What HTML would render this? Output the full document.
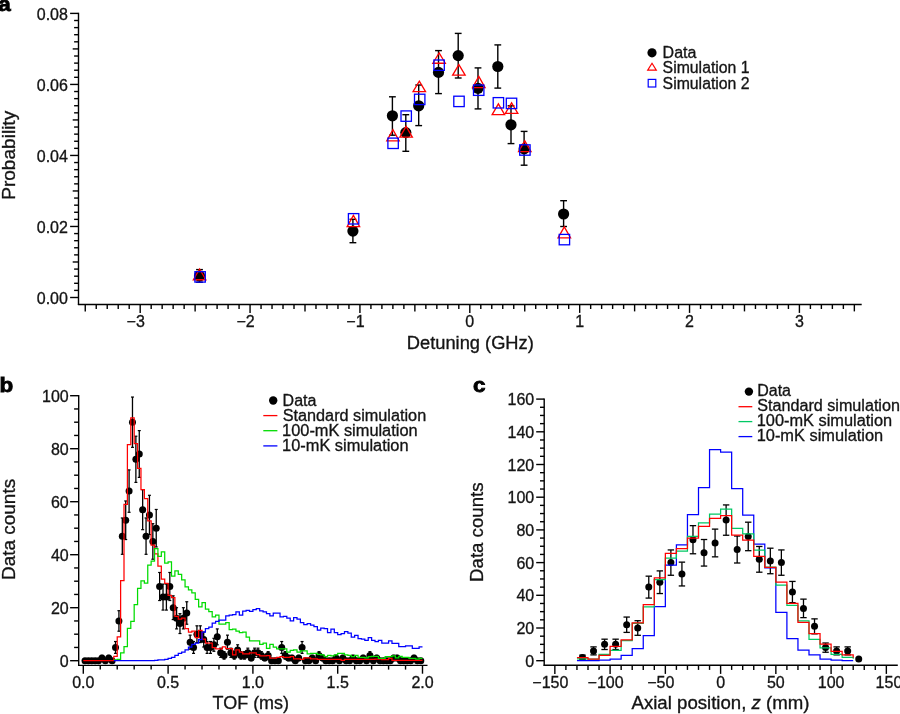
<!DOCTYPE html>
<html><head><meta charset="utf-8"><style>html,body{margin:0;padding:0;background:#fff}svg{display:block;will-change:transform;opacity:0.999}text{font-family:"Liberation Sans",sans-serif;stroke:#141414;stroke-width:0.32px}</style></head><body>
<svg width="900" height="714" viewBox="0 0 900 714">
<rect width="900" height="714" fill="#fff"/>
<g id="pa">
<line x1="78.50" y1="12.80" x2="78.50" y2="305.10" stroke="#000" stroke-width="1.4" />
<line x1="77.90" y1="304.50" x2="861.70" y2="304.50" stroke="#000" stroke-width="1.4" />
<line x1="70.10" y1="297.50" x2="78.50" y2="297.50" stroke="#000" stroke-width="1.4" />
<text x="67.90" y="303.60" font-size="16" text-anchor="end" font-weight="normal" fill="#141414" >0.00</text>
<line x1="74.10" y1="290.40" x2="78.50" y2="290.40" stroke="#000" stroke-width="1.4" />
<line x1="74.10" y1="283.30" x2="78.50" y2="283.30" stroke="#000" stroke-width="1.4" />
<line x1="74.10" y1="276.19" x2="78.50" y2="276.19" stroke="#000" stroke-width="1.4" />
<line x1="74.10" y1="269.09" x2="78.50" y2="269.09" stroke="#000" stroke-width="1.4" />
<line x1="72.70" y1="261.99" x2="78.50" y2="261.99" stroke="#000" stroke-width="1.4" />
<line x1="74.10" y1="254.88" x2="78.50" y2="254.88" stroke="#000" stroke-width="1.4" />
<line x1="74.10" y1="247.78" x2="78.50" y2="247.78" stroke="#000" stroke-width="1.4" />
<line x1="74.10" y1="240.68" x2="78.50" y2="240.68" stroke="#000" stroke-width="1.4" />
<line x1="74.10" y1="233.58" x2="78.50" y2="233.58" stroke="#000" stroke-width="1.4" />
<line x1="70.10" y1="226.47" x2="78.50" y2="226.47" stroke="#000" stroke-width="1.4" />
<text x="67.90" y="232.57" font-size="16" text-anchor="end" font-weight="normal" fill="#141414" >0.02</text>
<line x1="74.10" y1="219.37" x2="78.50" y2="219.37" stroke="#000" stroke-width="1.4" />
<line x1="74.10" y1="212.27" x2="78.50" y2="212.27" stroke="#000" stroke-width="1.4" />
<line x1="74.10" y1="205.17" x2="78.50" y2="205.17" stroke="#000" stroke-width="1.4" />
<line x1="74.10" y1="198.06" x2="78.50" y2="198.06" stroke="#000" stroke-width="1.4" />
<line x1="72.70" y1="190.96" x2="78.50" y2="190.96" stroke="#000" stroke-width="1.4" />
<line x1="74.10" y1="183.86" x2="78.50" y2="183.86" stroke="#000" stroke-width="1.4" />
<line x1="74.10" y1="176.76" x2="78.50" y2="176.76" stroke="#000" stroke-width="1.4" />
<line x1="74.10" y1="169.65" x2="78.50" y2="169.65" stroke="#000" stroke-width="1.4" />
<line x1="74.10" y1="162.55" x2="78.50" y2="162.55" stroke="#000" stroke-width="1.4" />
<line x1="70.10" y1="155.45" x2="78.50" y2="155.45" stroke="#000" stroke-width="1.4" />
<text x="67.90" y="161.55" font-size="16" text-anchor="end" font-weight="normal" fill="#141414" >0.04</text>
<line x1="74.10" y1="148.35" x2="78.50" y2="148.35" stroke="#000" stroke-width="1.4" />
<line x1="74.10" y1="141.25" x2="78.50" y2="141.25" stroke="#000" stroke-width="1.4" />
<line x1="74.10" y1="134.14" x2="78.50" y2="134.14" stroke="#000" stroke-width="1.4" />
<line x1="74.10" y1="127.04" x2="78.50" y2="127.04" stroke="#000" stroke-width="1.4" />
<line x1="72.70" y1="119.94" x2="78.50" y2="119.94" stroke="#000" stroke-width="1.4" />
<line x1="74.10" y1="112.83" x2="78.50" y2="112.83" stroke="#000" stroke-width="1.4" />
<line x1="74.10" y1="105.73" x2="78.50" y2="105.73" stroke="#000" stroke-width="1.4" />
<line x1="74.10" y1="98.63" x2="78.50" y2="98.63" stroke="#000" stroke-width="1.4" />
<line x1="74.10" y1="91.53" x2="78.50" y2="91.53" stroke="#000" stroke-width="1.4" />
<line x1="70.10" y1="84.43" x2="78.50" y2="84.43" stroke="#000" stroke-width="1.4" />
<text x="67.90" y="90.53" font-size="16" text-anchor="end" font-weight="normal" fill="#141414" >0.06</text>
<line x1="74.10" y1="77.32" x2="78.50" y2="77.32" stroke="#000" stroke-width="1.4" />
<line x1="74.10" y1="70.22" x2="78.50" y2="70.22" stroke="#000" stroke-width="1.4" />
<line x1="74.10" y1="63.12" x2="78.50" y2="63.12" stroke="#000" stroke-width="1.4" />
<line x1="74.10" y1="56.01" x2="78.50" y2="56.01" stroke="#000" stroke-width="1.4" />
<line x1="72.70" y1="48.91" x2="78.50" y2="48.91" stroke="#000" stroke-width="1.4" />
<line x1="74.10" y1="41.81" x2="78.50" y2="41.81" stroke="#000" stroke-width="1.4" />
<line x1="74.10" y1="34.71" x2="78.50" y2="34.71" stroke="#000" stroke-width="1.4" />
<line x1="74.10" y1="27.61" x2="78.50" y2="27.61" stroke="#000" stroke-width="1.4" />
<line x1="74.10" y1="20.50" x2="78.50" y2="20.50" stroke="#000" stroke-width="1.4" />
<line x1="70.10" y1="13.40" x2="78.50" y2="13.40" stroke="#000" stroke-width="1.4" />
<text x="67.90" y="19.50" font-size="16" text-anchor="end" font-weight="normal" fill="#141414" >0.08</text>
<line x1="85.25" y1="304.50" x2="85.25" y2="311.40" stroke="#000" stroke-width="1.4" />
<line x1="96.24" y1="304.50" x2="96.24" y2="309.00" stroke="#000" stroke-width="1.4" />
<line x1="107.23" y1="304.50" x2="107.23" y2="309.00" stroke="#000" stroke-width="1.4" />
<line x1="118.22" y1="304.50" x2="118.22" y2="309.00" stroke="#000" stroke-width="1.4" />
<line x1="129.20" y1="304.50" x2="129.20" y2="309.00" stroke="#000" stroke-width="1.4" />
<line x1="140.19" y1="304.50" x2="140.19" y2="312.90" stroke="#000" stroke-width="1.4" />
<text x="135.69" y="326.80" font-size="16" text-anchor="middle" font-weight="normal" fill="#141414" >−3</text>
<line x1="151.18" y1="304.50" x2="151.18" y2="309.00" stroke="#000" stroke-width="1.4" />
<line x1="162.16" y1="304.50" x2="162.16" y2="309.00" stroke="#000" stroke-width="1.4" />
<line x1="173.15" y1="304.50" x2="173.15" y2="309.00" stroke="#000" stroke-width="1.4" />
<line x1="184.14" y1="304.50" x2="184.14" y2="309.00" stroke="#000" stroke-width="1.4" />
<line x1="195.12" y1="304.50" x2="195.12" y2="311.40" stroke="#000" stroke-width="1.4" />
<line x1="206.11" y1="304.50" x2="206.11" y2="309.00" stroke="#000" stroke-width="1.4" />
<line x1="217.10" y1="304.50" x2="217.10" y2="309.00" stroke="#000" stroke-width="1.4" />
<line x1="228.09" y1="304.50" x2="228.09" y2="309.00" stroke="#000" stroke-width="1.4" />
<line x1="239.07" y1="304.50" x2="239.07" y2="309.00" stroke="#000" stroke-width="1.4" />
<line x1="250.06" y1="304.50" x2="250.06" y2="312.90" stroke="#000" stroke-width="1.4" />
<text x="245.56" y="326.80" font-size="16" text-anchor="middle" font-weight="normal" fill="#141414" >−2</text>
<line x1="261.05" y1="304.50" x2="261.05" y2="309.00" stroke="#000" stroke-width="1.4" />
<line x1="272.03" y1="304.50" x2="272.03" y2="309.00" stroke="#000" stroke-width="1.4" />
<line x1="283.02" y1="304.50" x2="283.02" y2="309.00" stroke="#000" stroke-width="1.4" />
<line x1="294.01" y1="304.50" x2="294.01" y2="309.00" stroke="#000" stroke-width="1.4" />
<line x1="305.00" y1="304.50" x2="305.00" y2="311.40" stroke="#000" stroke-width="1.4" />
<line x1="315.98" y1="304.50" x2="315.98" y2="309.00" stroke="#000" stroke-width="1.4" />
<line x1="326.97" y1="304.50" x2="326.97" y2="309.00" stroke="#000" stroke-width="1.4" />
<line x1="337.96" y1="304.50" x2="337.96" y2="309.00" stroke="#000" stroke-width="1.4" />
<line x1="348.94" y1="304.50" x2="348.94" y2="309.00" stroke="#000" stroke-width="1.4" />
<line x1="359.93" y1="304.50" x2="359.93" y2="312.90" stroke="#000" stroke-width="1.4" />
<text x="355.43" y="326.80" font-size="16" text-anchor="middle" font-weight="normal" fill="#141414" >−1</text>
<line x1="370.92" y1="304.50" x2="370.92" y2="309.00" stroke="#000" stroke-width="1.4" />
<line x1="381.90" y1="304.50" x2="381.90" y2="309.00" stroke="#000" stroke-width="1.4" />
<line x1="392.89" y1="304.50" x2="392.89" y2="309.00" stroke="#000" stroke-width="1.4" />
<line x1="403.88" y1="304.50" x2="403.88" y2="309.00" stroke="#000" stroke-width="1.4" />
<line x1="414.87" y1="304.50" x2="414.87" y2="311.40" stroke="#000" stroke-width="1.4" />
<line x1="425.85" y1="304.50" x2="425.85" y2="309.00" stroke="#000" stroke-width="1.4" />
<line x1="436.84" y1="304.50" x2="436.84" y2="309.00" stroke="#000" stroke-width="1.4" />
<line x1="447.83" y1="304.50" x2="447.83" y2="309.00" stroke="#000" stroke-width="1.4" />
<line x1="458.81" y1="304.50" x2="458.81" y2="309.00" stroke="#000" stroke-width="1.4" />
<line x1="469.80" y1="304.50" x2="469.80" y2="312.90" stroke="#000" stroke-width="1.4" />
<text x="469.80" y="326.80" font-size="16" text-anchor="middle" font-weight="normal" fill="#141414" >0</text>
<line x1="480.79" y1="304.50" x2="480.79" y2="309.00" stroke="#000" stroke-width="1.4" />
<line x1="491.77" y1="304.50" x2="491.77" y2="309.00" stroke="#000" stroke-width="1.4" />
<line x1="502.76" y1="304.50" x2="502.76" y2="309.00" stroke="#000" stroke-width="1.4" />
<line x1="513.75" y1="304.50" x2="513.75" y2="309.00" stroke="#000" stroke-width="1.4" />
<line x1="524.74" y1="304.50" x2="524.74" y2="311.40" stroke="#000" stroke-width="1.4" />
<line x1="535.72" y1="304.50" x2="535.72" y2="309.00" stroke="#000" stroke-width="1.4" />
<line x1="546.71" y1="304.50" x2="546.71" y2="309.00" stroke="#000" stroke-width="1.4" />
<line x1="557.70" y1="304.50" x2="557.70" y2="309.00" stroke="#000" stroke-width="1.4" />
<line x1="568.68" y1="304.50" x2="568.68" y2="309.00" stroke="#000" stroke-width="1.4" />
<line x1="579.67" y1="304.50" x2="579.67" y2="312.90" stroke="#000" stroke-width="1.4" />
<text x="579.67" y="326.80" font-size="16" text-anchor="middle" font-weight="normal" fill="#141414" >1</text>
<line x1="590.66" y1="304.50" x2="590.66" y2="309.00" stroke="#000" stroke-width="1.4" />
<line x1="601.64" y1="304.50" x2="601.64" y2="309.00" stroke="#000" stroke-width="1.4" />
<line x1="612.63" y1="304.50" x2="612.63" y2="309.00" stroke="#000" stroke-width="1.4" />
<line x1="623.62" y1="304.50" x2="623.62" y2="309.00" stroke="#000" stroke-width="1.4" />
<line x1="634.61" y1="304.50" x2="634.61" y2="311.40" stroke="#000" stroke-width="1.4" />
<line x1="645.59" y1="304.50" x2="645.59" y2="309.00" stroke="#000" stroke-width="1.4" />
<line x1="656.58" y1="304.50" x2="656.58" y2="309.00" stroke="#000" stroke-width="1.4" />
<line x1="667.57" y1="304.50" x2="667.57" y2="309.00" stroke="#000" stroke-width="1.4" />
<line x1="678.55" y1="304.50" x2="678.55" y2="309.00" stroke="#000" stroke-width="1.4" />
<line x1="689.54" y1="304.50" x2="689.54" y2="312.90" stroke="#000" stroke-width="1.4" />
<text x="689.54" y="326.80" font-size="16" text-anchor="middle" font-weight="normal" fill="#141414" >2</text>
<line x1="700.53" y1="304.50" x2="700.53" y2="309.00" stroke="#000" stroke-width="1.4" />
<line x1="711.51" y1="304.50" x2="711.51" y2="309.00" stroke="#000" stroke-width="1.4" />
<line x1="722.50" y1="304.50" x2="722.50" y2="309.00" stroke="#000" stroke-width="1.4" />
<line x1="733.49" y1="304.50" x2="733.49" y2="309.00" stroke="#000" stroke-width="1.4" />
<line x1="744.48" y1="304.50" x2="744.48" y2="311.40" stroke="#000" stroke-width="1.4" />
<line x1="755.46" y1="304.50" x2="755.46" y2="309.00" stroke="#000" stroke-width="1.4" />
<line x1="766.45" y1="304.50" x2="766.45" y2="309.00" stroke="#000" stroke-width="1.4" />
<line x1="777.44" y1="304.50" x2="777.44" y2="309.00" stroke="#000" stroke-width="1.4" />
<line x1="788.42" y1="304.50" x2="788.42" y2="309.00" stroke="#000" stroke-width="1.4" />
<line x1="799.41" y1="304.50" x2="799.41" y2="312.90" stroke="#000" stroke-width="1.4" />
<text x="799.41" y="326.80" font-size="16" text-anchor="middle" font-weight="normal" fill="#141414" >3</text>
<line x1="810.40" y1="304.50" x2="810.40" y2="309.00" stroke="#000" stroke-width="1.4" />
<line x1="821.38" y1="304.50" x2="821.38" y2="309.00" stroke="#000" stroke-width="1.4" />
<line x1="832.37" y1="304.50" x2="832.37" y2="309.00" stroke="#000" stroke-width="1.4" />
<line x1="843.36" y1="304.50" x2="843.36" y2="309.00" stroke="#000" stroke-width="1.4" />
<line x1="854.35" y1="304.50" x2="854.35" y2="311.40" stroke="#000" stroke-width="1.4" />
<text x="470.30" y="348.60" font-size="17.5" text-anchor="middle" font-weight="normal" fill="#141414"  textLength="127" lengthAdjust="spacingAndGlyphs">Detuning (GHz)</text>
<text transform="translate(14.9,155.3) rotate(-90)" font-size="17.5" text-anchor="middle" fill="#141414" textLength="89" lengthAdjust="spacingAndGlyphs">Probability</text>
<text transform="translate(-1.8,10.9) scale(1.12,1)" font-size="20" font-weight="bold" fill="#000" style="stroke:#000;stroke-width:0.85px">a</text>
<line x1="199.50" y1="269.60" x2="199.50" y2="282.20" stroke="#000" stroke-width="1.4" />
<line x1="196.10" y1="269.60" x2="202.90" y2="269.60" stroke="#000" stroke-width="1.4" />
<line x1="196.10" y1="282.20" x2="202.90" y2="282.20" stroke="#000" stroke-width="1.4" />
<circle cx="199.5" cy="276.0" r="5.6" fill="#000"/>
<line x1="352.90" y1="219.30" x2="352.90" y2="242.70" stroke="#000" stroke-width="1.4" />
<line x1="349.50" y1="219.30" x2="356.30" y2="219.30" stroke="#000" stroke-width="1.4" />
<line x1="349.50" y1="242.70" x2="356.30" y2="242.70" stroke="#000" stroke-width="1.4" />
<circle cx="352.9" cy="231.1" r="5.6" fill="#000"/>
<line x1="392.40" y1="96.80" x2="392.40" y2="135.20" stroke="#000" stroke-width="1.4" />
<line x1="389.00" y1="96.80" x2="395.80" y2="96.80" stroke="#000" stroke-width="1.4" />
<line x1="389.00" y1="135.20" x2="395.80" y2="135.20" stroke="#000" stroke-width="1.4" />
<circle cx="392.4" cy="115.8" r="5.6" fill="#000"/>
<line x1="405.80" y1="114.70" x2="405.80" y2="151.30" stroke="#000" stroke-width="1.4" />
<line x1="402.40" y1="114.70" x2="409.20" y2="114.70" stroke="#000" stroke-width="1.4" />
<line x1="402.40" y1="151.30" x2="409.20" y2="151.30" stroke="#000" stroke-width="1.4" />
<circle cx="405.8" cy="132.6" r="5.6" fill="#000"/>
<line x1="418.70" y1="85.00" x2="418.70" y2="125.60" stroke="#000" stroke-width="1.4" />
<line x1="415.30" y1="85.00" x2="422.10" y2="85.00" stroke="#000" stroke-width="1.4" />
<line x1="415.30" y1="125.60" x2="422.10" y2="125.60" stroke="#000" stroke-width="1.4" />
<circle cx="418.7" cy="105.8" r="5.6" fill="#000"/>
<line x1="438.50" y1="50.60" x2="438.50" y2="93.60" stroke="#000" stroke-width="1.4" />
<line x1="435.10" y1="50.60" x2="441.90" y2="50.60" stroke="#000" stroke-width="1.4" />
<line x1="435.10" y1="93.60" x2="441.90" y2="93.60" stroke="#000" stroke-width="1.4" />
<circle cx="438.5" cy="72.4" r="5.6" fill="#000"/>
<line x1="458.20" y1="33.40" x2="458.20" y2="78.00" stroke="#000" stroke-width="1.4" />
<line x1="454.80" y1="33.40" x2="461.60" y2="33.40" stroke="#000" stroke-width="1.4" />
<line x1="454.80" y1="78.00" x2="461.60" y2="78.00" stroke="#000" stroke-width="1.4" />
<circle cx="458.2" cy="55.6" r="5.6" fill="#000"/>
<line x1="478.00" y1="67.90" x2="478.00" y2="108.90" stroke="#000" stroke-width="1.4" />
<line x1="474.60" y1="67.90" x2="481.40" y2="67.90" stroke="#000" stroke-width="1.4" />
<line x1="474.60" y1="108.90" x2="481.40" y2="108.90" stroke="#000" stroke-width="1.4" />
<circle cx="478.0" cy="88.3" r="5.6" fill="#000"/>
<line x1="497.80" y1="44.90" x2="497.80" y2="88.10" stroke="#000" stroke-width="1.4" />
<line x1="494.40" y1="44.90" x2="501.20" y2="44.90" stroke="#000" stroke-width="1.4" />
<line x1="494.40" y1="88.10" x2="501.20" y2="88.10" stroke="#000" stroke-width="1.4" />
<circle cx="497.8" cy="66.5" r="5.6" fill="#000"/>
<line x1="511.00" y1="105.80" x2="511.00" y2="143.60" stroke="#000" stroke-width="1.4" />
<line x1="507.60" y1="105.80" x2="514.40" y2="105.80" stroke="#000" stroke-width="1.4" />
<line x1="507.60" y1="143.60" x2="514.40" y2="143.60" stroke="#000" stroke-width="1.4" />
<circle cx="511.0" cy="124.8" r="5.6" fill="#000"/>
<line x1="524.10" y1="131.40" x2="524.10" y2="165.20" stroke="#000" stroke-width="1.4" />
<line x1="520.70" y1="131.40" x2="527.50" y2="131.40" stroke="#000" stroke-width="1.4" />
<line x1="520.70" y1="165.20" x2="527.50" y2="165.20" stroke="#000" stroke-width="1.4" />
<circle cx="524.1" cy="148.9" r="5.6" fill="#000"/>
<line x1="563.60" y1="200.70" x2="563.60" y2="226.50" stroke="#000" stroke-width="1.4" />
<line x1="560.20" y1="200.70" x2="567.00" y2="200.70" stroke="#000" stroke-width="1.4" />
<line x1="560.20" y1="226.50" x2="567.00" y2="226.50" stroke="#000" stroke-width="1.4" />
<circle cx="563.6" cy="214.0" r="5.6" fill="#000"/>
<path d="M199.60 269.00 L205.85 279.75 L193.35 279.75 Z" fill="none" stroke="#f00" stroke-width="1.3" stroke-linejoin="miter"/>
<path d="M353.40 215.40 L359.65 226.65 L347.15 226.65 Z" fill="none" stroke="#f00" stroke-width="1.3" stroke-linejoin="miter"/>
<path d="M393.00 129.70 L399.25 140.95 L386.75 140.95 Z" fill="none" stroke="#f00" stroke-width="1.3" stroke-linejoin="miter"/>
<path d="M406.10 126.30 L412.35 137.05 L399.85 137.05 Z" fill="none" stroke="#f00" stroke-width="1.3" stroke-linejoin="miter"/>
<path d="M419.30 81.20 L425.55 91.65 L413.05 91.65 Z" fill="none" stroke="#f00" stroke-width="1.3" stroke-linejoin="miter"/>
<path d="M439.10 52.90 L445.35 63.25 L432.85 63.25 Z" fill="none" stroke="#f00" stroke-width="1.3" stroke-linejoin="miter"/>
<path d="M458.90 64.60 L465.15 75.05 L452.65 75.05 Z" fill="none" stroke="#f00" stroke-width="1.3" stroke-linejoin="miter"/>
<path d="M478.80 76.40 L485.05 87.65 L472.55 87.65 Z" fill="none" stroke="#f00" stroke-width="1.3" stroke-linejoin="miter"/>
<path d="M498.40 103.90 L504.65 114.65 L492.15 114.65 Z" fill="none" stroke="#f00" stroke-width="1.3" stroke-linejoin="miter"/>
<path d="M511.60 102.80 L517.85 113.45 L505.35 113.45 Z" fill="none" stroke="#f00" stroke-width="1.3" stroke-linejoin="miter"/>
<path d="M524.80 140.90 L531.05 151.55 L518.55 151.55 Z" fill="none" stroke="#f00" stroke-width="1.3" stroke-linejoin="miter"/>
<path d="M564.30 226.90 L570.55 237.95 L558.05 237.95 Z" fill="none" stroke="#f00" stroke-width="1.3" stroke-linejoin="miter"/>
<rect x="194.90" y="271.70" width="10.4" height="10.4" fill="none" stroke="#00f" stroke-width="1.3"/>
<rect x="348.40" y="213.60" width="10.4" height="10.4" fill="none" stroke="#00f" stroke-width="1.3"/>
<rect x="387.90" y="138.10" width="10.4" height="10.4" fill="none" stroke="#00f" stroke-width="1.3"/>
<rect x="401.00" y="110.90" width="10.4" height="10.4" fill="none" stroke="#00f" stroke-width="1.3"/>
<rect x="414.50" y="94.20" width="10.4" height="10.4" fill="none" stroke="#00f" stroke-width="1.3"/>
<rect x="433.90" y="60.00" width="10.4" height="10.4" fill="none" stroke="#00f" stroke-width="1.3"/>
<rect x="453.80" y="96.20" width="10.4" height="10.4" fill="none" stroke="#00f" stroke-width="1.3"/>
<rect x="473.50" y="85.00" width="10.4" height="10.4" fill="none" stroke="#00f" stroke-width="1.3"/>
<rect x="493.20" y="97.60" width="10.4" height="10.4" fill="none" stroke="#00f" stroke-width="1.3"/>
<rect x="506.30" y="98.20" width="10.4" height="10.4" fill="none" stroke="#00f" stroke-width="1.3"/>
<rect x="519.70" y="144.80" width="10.4" height="10.4" fill="none" stroke="#00f" stroke-width="1.3"/>
<rect x="559.20" y="234.40" width="10.4" height="10.4" fill="none" stroke="#00f" stroke-width="1.3"/>
<circle cx="652" cy="52.8" r="4.6" fill="#000"/>
<path d="M652 63.3 L656.3 70.2 L647.7 70.2 Z" fill="none" stroke="#f00" stroke-width="1.2"/>
<rect x="648.2" y="79.4" width="7.6" height="7.6" fill="none" stroke="#00f" stroke-width="1.2"/>
<text x="662.60" y="58.30" font-size="16" text-anchor="start" font-weight="normal" fill="#141414" >Data</text>
<text x="662.60" y="73.30" font-size="16" text-anchor="start" font-weight="normal" fill="#141414"  textLength="87" lengthAdjust="spacingAndGlyphs">Simulation 1</text>
<text x="662.60" y="88.60" font-size="16" text-anchor="start" font-weight="normal" fill="#141414"  textLength="87" lengthAdjust="spacingAndGlyphs">Simulation 2</text>
</g>
<g id="pb">
<line x1="78.70" y1="395.10" x2="78.70" y2="666.00" stroke="#000" stroke-width="1.4" />
<line x1="78.10" y1="665.40" x2="427.50" y2="665.40" stroke="#000" stroke-width="1.4" />
<line x1="70.10" y1="660.70" x2="78.70" y2="660.70" stroke="#000" stroke-width="1.4" />
<text x="68.70" y="666.80" font-size="16" text-anchor="end" font-weight="normal" fill="#141414" >0</text>
<line x1="74.10" y1="647.45" x2="78.70" y2="647.45" stroke="#000" stroke-width="1.4" />
<line x1="74.10" y1="634.20" x2="78.70" y2="634.20" stroke="#000" stroke-width="1.4" />
<line x1="74.10" y1="620.95" x2="78.70" y2="620.95" stroke="#000" stroke-width="1.4" />
<line x1="70.10" y1="607.70" x2="78.70" y2="607.70" stroke="#000" stroke-width="1.4" />
<text x="68.70" y="613.80" font-size="16" text-anchor="end" font-weight="normal" fill="#141414" >20</text>
<line x1="74.10" y1="594.45" x2="78.70" y2="594.45" stroke="#000" stroke-width="1.4" />
<line x1="74.10" y1="581.20" x2="78.70" y2="581.20" stroke="#000" stroke-width="1.4" />
<line x1="74.10" y1="567.95" x2="78.70" y2="567.95" stroke="#000" stroke-width="1.4" />
<line x1="70.10" y1="554.70" x2="78.70" y2="554.70" stroke="#000" stroke-width="1.4" />
<text x="68.70" y="560.80" font-size="16" text-anchor="end" font-weight="normal" fill="#141414" >40</text>
<line x1="74.10" y1="541.45" x2="78.70" y2="541.45" stroke="#000" stroke-width="1.4" />
<line x1="74.10" y1="528.20" x2="78.70" y2="528.20" stroke="#000" stroke-width="1.4" />
<line x1="74.10" y1="514.95" x2="78.70" y2="514.95" stroke="#000" stroke-width="1.4" />
<line x1="70.10" y1="501.70" x2="78.70" y2="501.70" stroke="#000" stroke-width="1.4" />
<text x="68.70" y="507.80" font-size="16" text-anchor="end" font-weight="normal" fill="#141414" >60</text>
<line x1="74.10" y1="488.45" x2="78.70" y2="488.45" stroke="#000" stroke-width="1.4" />
<line x1="74.10" y1="475.20" x2="78.70" y2="475.20" stroke="#000" stroke-width="1.4" />
<line x1="74.10" y1="461.95" x2="78.70" y2="461.95" stroke="#000" stroke-width="1.4" />
<line x1="70.10" y1="448.70" x2="78.70" y2="448.70" stroke="#000" stroke-width="1.4" />
<text x="68.70" y="454.80" font-size="16" text-anchor="end" font-weight="normal" fill="#141414" >80</text>
<line x1="74.10" y1="435.45" x2="78.70" y2="435.45" stroke="#000" stroke-width="1.4" />
<line x1="74.10" y1="422.20" x2="78.70" y2="422.20" stroke="#000" stroke-width="1.4" />
<line x1="74.10" y1="408.95" x2="78.70" y2="408.95" stroke="#000" stroke-width="1.4" />
<line x1="70.10" y1="395.70" x2="78.70" y2="395.70" stroke="#000" stroke-width="1.4" />
<text x="68.70" y="401.80" font-size="16" text-anchor="end" font-weight="normal" fill="#141414" >100</text>
<line x1="83.30" y1="665.40" x2="83.30" y2="673.70" stroke="#000" stroke-width="1.4" />
<text x="83.30" y="688.00" font-size="16" text-anchor="middle" font-weight="normal" fill="#141414" >0.0</text>
<line x1="100.26" y1="665.40" x2="100.26" y2="669.60" stroke="#000" stroke-width="1.4" />
<line x1="117.22" y1="665.40" x2="117.22" y2="669.60" stroke="#000" stroke-width="1.4" />
<line x1="134.18" y1="665.40" x2="134.18" y2="669.60" stroke="#000" stroke-width="1.4" />
<line x1="151.14" y1="665.40" x2="151.14" y2="669.60" stroke="#000" stroke-width="1.4" />
<line x1="168.10" y1="665.40" x2="168.10" y2="673.70" stroke="#000" stroke-width="1.4" />
<text x="168.10" y="688.00" font-size="16" text-anchor="middle" font-weight="normal" fill="#141414" >0.5</text>
<line x1="185.06" y1="665.40" x2="185.06" y2="669.60" stroke="#000" stroke-width="1.4" />
<line x1="202.02" y1="665.40" x2="202.02" y2="669.60" stroke="#000" stroke-width="1.4" />
<line x1="218.98" y1="665.40" x2="218.98" y2="669.60" stroke="#000" stroke-width="1.4" />
<line x1="235.94" y1="665.40" x2="235.94" y2="669.60" stroke="#000" stroke-width="1.4" />
<line x1="252.90" y1="665.40" x2="252.90" y2="673.70" stroke="#000" stroke-width="1.4" />
<text x="252.90" y="688.00" font-size="16" text-anchor="middle" font-weight="normal" fill="#141414" >1.0</text>
<line x1="269.86" y1="665.40" x2="269.86" y2="669.60" stroke="#000" stroke-width="1.4" />
<line x1="286.82" y1="665.40" x2="286.82" y2="669.60" stroke="#000" stroke-width="1.4" />
<line x1="303.78" y1="665.40" x2="303.78" y2="669.60" stroke="#000" stroke-width="1.4" />
<line x1="320.74" y1="665.40" x2="320.74" y2="669.60" stroke="#000" stroke-width="1.4" />
<line x1="337.70" y1="665.40" x2="337.70" y2="673.70" stroke="#000" stroke-width="1.4" />
<text x="337.70" y="688.00" font-size="16" text-anchor="middle" font-weight="normal" fill="#141414" >1.5</text>
<line x1="354.66" y1="665.40" x2="354.66" y2="669.60" stroke="#000" stroke-width="1.4" />
<line x1="371.62" y1="665.40" x2="371.62" y2="669.60" stroke="#000" stroke-width="1.4" />
<line x1="388.58" y1="665.40" x2="388.58" y2="669.60" stroke="#000" stroke-width="1.4" />
<line x1="405.54" y1="665.40" x2="405.54" y2="669.60" stroke="#000" stroke-width="1.4" />
<line x1="422.50" y1="665.40" x2="422.50" y2="673.70" stroke="#000" stroke-width="1.4" />
<text x="422.50" y="688.00" font-size="16" text-anchor="middle" font-weight="normal" fill="#141414" >2.0</text>
<text x="250.80" y="708.70" font-size="17.5" text-anchor="middle" font-weight="normal" fill="#141414"  textLength="76.5" lengthAdjust="spacingAndGlyphs">TOF (ms)</text>
<text transform="translate(15.3,529.4) rotate(-90)" font-size="17.5" text-anchor="middle" fill="#141414" textLength="101" lengthAdjust="spacingAndGlyphs">Data counts</text>
<text transform="translate(-0.4,391.6) scale(1.12,1)" font-size="20" font-weight="bold" fill="#000" style="stroke:#000;stroke-width:0.85px">b</text>
<circle cx="85.00" cy="660.70" r="3.5" fill="#000"/>
<circle cx="88.39" cy="660.70" r="3.5" fill="#000"/>
<circle cx="91.78" cy="660.70" r="3.5" fill="#000"/>
<circle cx="95.17" cy="660.70" r="3.5" fill="#000"/>
<circle cx="98.56" cy="660.70" r="3.5" fill="#000"/>
<line x1="101.96" y1="655.40" x2="101.96" y2="660.70" stroke="#000" stroke-width="1.3" />
<line x1="100.46" y1="655.40" x2="103.46" y2="655.40" stroke="#000" stroke-width="1.2" />
<line x1="100.46" y1="660.70" x2="103.46" y2="660.70" stroke="#000" stroke-width="1.2" />
<circle cx="101.96" cy="658.05" r="3.5" fill="#000"/>
<circle cx="105.35" cy="660.70" r="3.5" fill="#000"/>
<line x1="108.74" y1="655.40" x2="108.74" y2="660.70" stroke="#000" stroke-width="1.3" />
<line x1="107.24" y1="655.40" x2="110.24" y2="655.40" stroke="#000" stroke-width="1.2" />
<line x1="107.24" y1="660.70" x2="110.24" y2="660.70" stroke="#000" stroke-width="1.2" />
<circle cx="108.74" cy="658.05" r="3.5" fill="#000"/>
<circle cx="112.13" cy="660.70" r="3.5" fill="#000"/>
<line x1="115.52" y1="641.52" x2="115.52" y2="653.38" stroke="#000" stroke-width="1.3" />
<line x1="114.02" y1="641.52" x2="117.02" y2="641.52" stroke="#000" stroke-width="1.2" />
<line x1="114.02" y1="653.38" x2="117.02" y2="653.38" stroke="#000" stroke-width="1.2" />
<circle cx="115.52" cy="647.45" r="3.5" fill="#000"/>
<line x1="118.92" y1="610.69" x2="118.92" y2="631.21" stroke="#000" stroke-width="1.3" />
<line x1="117.42" y1="610.69" x2="120.42" y2="610.69" stroke="#000" stroke-width="1.2" />
<line x1="117.42" y1="631.21" x2="120.42" y2="631.21" stroke="#000" stroke-width="1.2" />
<circle cx="118.92" cy="620.95" r="3.5" fill="#000"/>
<line x1="122.31" y1="517.98" x2="122.31" y2="554.32" stroke="#000" stroke-width="1.3" />
<line x1="120.81" y1="517.98" x2="123.81" y2="517.98" stroke="#000" stroke-width="1.2" />
<line x1="120.81" y1="554.32" x2="123.81" y2="554.32" stroke="#000" stroke-width="1.2" />
<circle cx="122.31" cy="536.15" r="3.5" fill="#000"/>
<line x1="125.70" y1="500.96" x2="125.70" y2="539.54" stroke="#000" stroke-width="1.3" />
<line x1="124.20" y1="500.96" x2="127.20" y2="500.96" stroke="#000" stroke-width="1.2" />
<line x1="124.20" y1="539.54" x2="127.20" y2="539.54" stroke="#000" stroke-width="1.2" />
<circle cx="125.70" cy="520.25" r="3.5" fill="#000"/>
<line x1="129.09" y1="469.90" x2="129.09" y2="512.30" stroke="#000" stroke-width="1.3" />
<line x1="127.59" y1="469.90" x2="130.59" y2="469.90" stroke="#000" stroke-width="1.2" />
<line x1="127.59" y1="512.30" x2="130.59" y2="512.30" stroke="#000" stroke-width="1.2" />
<circle cx="129.09" cy="491.10" r="3.5" fill="#000"/>
<line x1="132.48" y1="397.06" x2="132.48" y2="447.34" stroke="#000" stroke-width="1.3" />
<line x1="130.98" y1="397.06" x2="133.98" y2="397.06" stroke="#000" stroke-width="1.2" />
<line x1="130.98" y1="447.34" x2="133.98" y2="447.34" stroke="#000" stroke-width="1.2" />
<circle cx="132.48" cy="422.20" r="3.5" fill="#000"/>
<line x1="135.88" y1="436.20" x2="135.88" y2="482.40" stroke="#000" stroke-width="1.3" />
<line x1="134.38" y1="436.20" x2="137.38" y2="436.20" stroke="#000" stroke-width="1.2" />
<line x1="134.38" y1="482.40" x2="137.38" y2="482.40" stroke="#000" stroke-width="1.2" />
<circle cx="135.88" cy="459.30" r="3.5" fill="#000"/>
<line x1="139.27" y1="430.60" x2="139.27" y2="477.40" stroke="#000" stroke-width="1.3" />
<line x1="137.77" y1="430.60" x2="140.77" y2="430.60" stroke="#000" stroke-width="1.2" />
<line x1="137.77" y1="477.40" x2="140.77" y2="477.40" stroke="#000" stroke-width="1.2" />
<circle cx="139.27" cy="454.00" r="3.5" fill="#000"/>
<line x1="142.66" y1="489.64" x2="142.66" y2="529.66" stroke="#000" stroke-width="1.3" />
<line x1="141.16" y1="489.64" x2="144.16" y2="489.64" stroke="#000" stroke-width="1.2" />
<line x1="141.16" y1="529.66" x2="144.16" y2="529.66" stroke="#000" stroke-width="1.2" />
<circle cx="142.66" cy="509.65" r="3.5" fill="#000"/>
<line x1="146.05" y1="517.98" x2="146.05" y2="554.32" stroke="#000" stroke-width="1.3" />
<line x1="144.55" y1="517.98" x2="147.55" y2="517.98" stroke="#000" stroke-width="1.2" />
<line x1="144.55" y1="554.32" x2="147.55" y2="554.32" stroke="#000" stroke-width="1.2" />
<circle cx="146.05" cy="536.15" r="3.5" fill="#000"/>
<line x1="149.44" y1="495.30" x2="149.44" y2="534.60" stroke="#000" stroke-width="1.3" />
<line x1="147.94" y1="495.30" x2="150.94" y2="495.30" stroke="#000" stroke-width="1.2" />
<line x1="147.94" y1="534.60" x2="150.94" y2="534.60" stroke="#000" stroke-width="1.2" />
<circle cx="149.44" cy="514.95" r="3.5" fill="#000"/>
<line x1="152.84" y1="523.67" x2="152.84" y2="559.23" stroke="#000" stroke-width="1.3" />
<line x1="151.34" y1="523.67" x2="154.34" y2="523.67" stroke="#000" stroke-width="1.2" />
<line x1="151.34" y1="559.23" x2="154.34" y2="559.23" stroke="#000" stroke-width="1.2" />
<circle cx="152.84" cy="541.45" r="3.5" fill="#000"/>
<line x1="156.23" y1="509.46" x2="156.23" y2="546.94" stroke="#000" stroke-width="1.3" />
<line x1="154.73" y1="509.46" x2="157.73" y2="509.46" stroke="#000" stroke-width="1.2" />
<line x1="154.73" y1="546.94" x2="157.73" y2="546.94" stroke="#000" stroke-width="1.2" />
<circle cx="156.23" cy="528.20" r="3.5" fill="#000"/>
<line x1="159.62" y1="572.48" x2="159.62" y2="600.52" stroke="#000" stroke-width="1.3" />
<line x1="158.12" y1="572.48" x2="161.12" y2="572.48" stroke="#000" stroke-width="1.2" />
<line x1="158.12" y1="600.52" x2="161.12" y2="600.52" stroke="#000" stroke-width="1.2" />
<circle cx="159.62" cy="586.50" r="3.5" fill="#000"/>
<line x1="163.01" y1="584.12" x2="163.01" y2="610.08" stroke="#000" stroke-width="1.3" />
<line x1="161.51" y1="584.12" x2="164.51" y2="584.12" stroke="#000" stroke-width="1.2" />
<line x1="161.51" y1="610.08" x2="164.51" y2="610.08" stroke="#000" stroke-width="1.2" />
<circle cx="163.01" cy="597.10" r="3.5" fill="#000"/>
<line x1="166.40" y1="584.12" x2="166.40" y2="610.08" stroke="#000" stroke-width="1.3" />
<line x1="164.90" y1="584.12" x2="167.90" y2="584.12" stroke="#000" stroke-width="1.2" />
<line x1="164.90" y1="610.08" x2="167.90" y2="610.08" stroke="#000" stroke-width="1.2" />
<circle cx="166.40" cy="597.10" r="3.5" fill="#000"/>
<line x1="169.80" y1="572.48" x2="169.80" y2="600.52" stroke="#000" stroke-width="1.3" />
<line x1="168.30" y1="572.48" x2="171.30" y2="572.48" stroke="#000" stroke-width="1.2" />
<line x1="168.30" y1="600.52" x2="171.30" y2="600.52" stroke="#000" stroke-width="1.2" />
<circle cx="169.80" cy="586.50" r="3.5" fill="#000"/>
<line x1="173.19" y1="595.85" x2="173.19" y2="619.55" stroke="#000" stroke-width="1.3" />
<line x1="171.69" y1="595.85" x2="174.69" y2="595.85" stroke="#000" stroke-width="1.2" />
<line x1="171.69" y1="619.55" x2="174.69" y2="619.55" stroke="#000" stroke-width="1.2" />
<circle cx="173.19" cy="607.70" r="3.5" fill="#000"/>
<line x1="176.58" y1="607.70" x2="176.58" y2="628.90" stroke="#000" stroke-width="1.3" />
<line x1="175.08" y1="607.70" x2="178.08" y2="607.70" stroke="#000" stroke-width="1.2" />
<line x1="175.08" y1="628.90" x2="178.08" y2="628.90" stroke="#000" stroke-width="1.2" />
<circle cx="176.58" cy="618.30" r="3.5" fill="#000"/>
<line x1="179.97" y1="613.68" x2="179.97" y2="633.52" stroke="#000" stroke-width="1.3" />
<line x1="178.47" y1="613.68" x2="181.47" y2="613.68" stroke="#000" stroke-width="1.2" />
<line x1="178.47" y1="633.52" x2="181.47" y2="633.52" stroke="#000" stroke-width="1.2" />
<circle cx="179.97" cy="623.60" r="3.5" fill="#000"/>
<line x1="183.36" y1="607.70" x2="183.36" y2="628.90" stroke="#000" stroke-width="1.3" />
<line x1="181.86" y1="607.70" x2="184.86" y2="607.70" stroke="#000" stroke-width="1.2" />
<line x1="181.86" y1="628.90" x2="184.86" y2="628.90" stroke="#000" stroke-width="1.2" />
<circle cx="183.36" cy="618.30" r="3.5" fill="#000"/>
<line x1="186.76" y1="601.76" x2="186.76" y2="624.24" stroke="#000" stroke-width="1.3" />
<line x1="185.26" y1="601.76" x2="188.26" y2="601.76" stroke="#000" stroke-width="1.2" />
<line x1="185.26" y1="624.24" x2="188.26" y2="624.24" stroke="#000" stroke-width="1.2" />
<circle cx="186.76" cy="613.00" r="3.5" fill="#000"/>
<line x1="190.15" y1="635.14" x2="190.15" y2="649.16" stroke="#000" stroke-width="1.3" />
<line x1="188.65" y1="635.14" x2="191.65" y2="635.14" stroke="#000" stroke-width="1.2" />
<line x1="188.65" y1="649.16" x2="191.65" y2="649.16" stroke="#000" stroke-width="1.2" />
<circle cx="190.15" cy="642.15" r="3.5" fill="#000"/>
<line x1="193.54" y1="641.52" x2="193.54" y2="653.38" stroke="#000" stroke-width="1.3" />
<line x1="192.04" y1="641.52" x2="195.04" y2="641.52" stroke="#000" stroke-width="1.2" />
<line x1="192.04" y1="653.38" x2="195.04" y2="653.38" stroke="#000" stroke-width="1.2" />
<circle cx="193.54" cy="647.45" r="3.5" fill="#000"/>
<line x1="196.93" y1="625.82" x2="196.93" y2="642.58" stroke="#000" stroke-width="1.3" />
<line x1="195.43" y1="625.82" x2="198.43" y2="625.82" stroke="#000" stroke-width="1.2" />
<line x1="195.43" y1="642.58" x2="198.43" y2="642.58" stroke="#000" stroke-width="1.2" />
<circle cx="196.93" cy="634.20" r="3.5" fill="#000"/>
<line x1="200.32" y1="625.82" x2="200.32" y2="642.58" stroke="#000" stroke-width="1.3" />
<line x1="198.82" y1="625.82" x2="201.82" y2="625.82" stroke="#000" stroke-width="1.2" />
<line x1="198.82" y1="642.58" x2="201.82" y2="642.58" stroke="#000" stroke-width="1.2" />
<circle cx="200.32" cy="634.20" r="3.5" fill="#000"/>
<line x1="203.72" y1="632.00" x2="203.72" y2="647.00" stroke="#000" stroke-width="1.3" />
<line x1="202.22" y1="632.00" x2="205.22" y2="632.00" stroke="#000" stroke-width="1.2" />
<line x1="202.22" y1="647.00" x2="205.22" y2="647.00" stroke="#000" stroke-width="1.2" />
<circle cx="203.72" cy="639.50" r="3.5" fill="#000"/>
<line x1="207.11" y1="641.52" x2="207.11" y2="653.38" stroke="#000" stroke-width="1.3" />
<line x1="205.61" y1="641.52" x2="208.61" y2="641.52" stroke="#000" stroke-width="1.2" />
<line x1="205.61" y1="653.38" x2="208.61" y2="653.38" stroke="#000" stroke-width="1.2" />
<circle cx="207.11" cy="647.45" r="3.5" fill="#000"/>
<line x1="210.50" y1="641.52" x2="210.50" y2="653.38" stroke="#000" stroke-width="1.3" />
<line x1="209.00" y1="641.52" x2="212.00" y2="641.52" stroke="#000" stroke-width="1.2" />
<line x1="209.00" y1="653.38" x2="212.00" y2="653.38" stroke="#000" stroke-width="1.2" />
<circle cx="210.50" cy="647.45" r="3.5" fill="#000"/>
<line x1="213.89" y1="638.31" x2="213.89" y2="651.29" stroke="#000" stroke-width="1.3" />
<line x1="212.39" y1="638.31" x2="215.39" y2="638.31" stroke="#000" stroke-width="1.2" />
<line x1="212.39" y1="651.29" x2="215.39" y2="651.29" stroke="#000" stroke-width="1.2" />
<circle cx="213.89" cy="644.80" r="3.5" fill="#000"/>
<line x1="217.28" y1="628.90" x2="217.28" y2="644.80" stroke="#000" stroke-width="1.3" />
<line x1="215.78" y1="628.90" x2="218.78" y2="628.90" stroke="#000" stroke-width="1.2" />
<line x1="215.78" y1="644.80" x2="218.78" y2="644.80" stroke="#000" stroke-width="1.2" />
<circle cx="217.28" cy="636.85" r="3.5" fill="#000"/>
<line x1="220.68" y1="648.16" x2="220.68" y2="657.34" stroke="#000" stroke-width="1.3" />
<line x1="219.18" y1="648.16" x2="222.18" y2="648.16" stroke="#000" stroke-width="1.2" />
<line x1="219.18" y1="657.34" x2="222.18" y2="657.34" stroke="#000" stroke-width="1.2" />
<circle cx="220.68" cy="652.75" r="3.5" fill="#000"/>
<line x1="224.07" y1="651.65" x2="224.07" y2="659.15" stroke="#000" stroke-width="1.3" />
<line x1="222.57" y1="651.65" x2="225.57" y2="651.65" stroke="#000" stroke-width="1.2" />
<line x1="222.57" y1="659.15" x2="225.57" y2="659.15" stroke="#000" stroke-width="1.2" />
<circle cx="224.07" cy="655.40" r="3.5" fill="#000"/>
<line x1="227.46" y1="635.14" x2="227.46" y2="649.16" stroke="#000" stroke-width="1.3" />
<line x1="225.96" y1="635.14" x2="228.96" y2="635.14" stroke="#000" stroke-width="1.2" />
<line x1="225.96" y1="649.16" x2="228.96" y2="649.16" stroke="#000" stroke-width="1.2" />
<circle cx="227.46" cy="642.15" r="3.5" fill="#000"/>
<line x1="230.85" y1="648.16" x2="230.85" y2="657.34" stroke="#000" stroke-width="1.3" />
<line x1="229.35" y1="648.16" x2="232.35" y2="648.16" stroke="#000" stroke-width="1.2" />
<line x1="229.35" y1="657.34" x2="232.35" y2="657.34" stroke="#000" stroke-width="1.2" />
<circle cx="230.85" cy="652.75" r="3.5" fill="#000"/>
<line x1="234.24" y1="651.65" x2="234.24" y2="659.15" stroke="#000" stroke-width="1.3" />
<line x1="232.74" y1="651.65" x2="235.74" y2="651.65" stroke="#000" stroke-width="1.2" />
<line x1="232.74" y1="659.15" x2="235.74" y2="659.15" stroke="#000" stroke-width="1.2" />
<circle cx="234.24" cy="655.40" r="3.5" fill="#000"/>
<line x1="237.64" y1="644.80" x2="237.64" y2="655.40" stroke="#000" stroke-width="1.3" />
<line x1="236.14" y1="644.80" x2="239.14" y2="644.80" stroke="#000" stroke-width="1.2" />
<line x1="236.14" y1="655.40" x2="239.14" y2="655.40" stroke="#000" stroke-width="1.2" />
<circle cx="237.64" cy="650.10" r="3.5" fill="#000"/>
<line x1="241.03" y1="651.65" x2="241.03" y2="659.15" stroke="#000" stroke-width="1.3" />
<line x1="239.53" y1="651.65" x2="242.53" y2="651.65" stroke="#000" stroke-width="1.2" />
<line x1="239.53" y1="659.15" x2="242.53" y2="659.15" stroke="#000" stroke-width="1.2" />
<circle cx="241.03" cy="655.40" r="3.5" fill="#000"/>
<line x1="244.42" y1="651.65" x2="244.42" y2="659.15" stroke="#000" stroke-width="1.3" />
<line x1="242.92" y1="651.65" x2="245.92" y2="651.65" stroke="#000" stroke-width="1.2" />
<line x1="242.92" y1="659.15" x2="245.92" y2="659.15" stroke="#000" stroke-width="1.2" />
<circle cx="244.42" cy="655.40" r="3.5" fill="#000"/>
<line x1="247.81" y1="648.16" x2="247.81" y2="657.34" stroke="#000" stroke-width="1.3" />
<line x1="246.31" y1="648.16" x2="249.31" y2="648.16" stroke="#000" stroke-width="1.2" />
<line x1="246.31" y1="657.34" x2="249.31" y2="657.34" stroke="#000" stroke-width="1.2" />
<circle cx="247.81" cy="652.75" r="3.5" fill="#000"/>
<line x1="251.20" y1="655.40" x2="251.20" y2="660.70" stroke="#000" stroke-width="1.3" />
<line x1="249.70" y1="655.40" x2="252.70" y2="655.40" stroke="#000" stroke-width="1.2" />
<line x1="249.70" y1="660.70" x2="252.70" y2="660.70" stroke="#000" stroke-width="1.2" />
<circle cx="251.20" cy="658.05" r="3.5" fill="#000"/>
<line x1="254.60" y1="648.16" x2="254.60" y2="657.34" stroke="#000" stroke-width="1.3" />
<line x1="253.10" y1="648.16" x2="256.10" y2="648.16" stroke="#000" stroke-width="1.2" />
<line x1="253.10" y1="657.34" x2="256.10" y2="657.34" stroke="#000" stroke-width="1.2" />
<circle cx="254.60" cy="652.75" r="3.5" fill="#000"/>
<line x1="257.99" y1="648.16" x2="257.99" y2="657.34" stroke="#000" stroke-width="1.3" />
<line x1="256.49" y1="648.16" x2="259.49" y2="648.16" stroke="#000" stroke-width="1.2" />
<line x1="256.49" y1="657.34" x2="259.49" y2="657.34" stroke="#000" stroke-width="1.2" />
<circle cx="257.99" cy="652.75" r="3.5" fill="#000"/>
<line x1="261.38" y1="651.65" x2="261.38" y2="659.15" stroke="#000" stroke-width="1.3" />
<line x1="259.88" y1="651.65" x2="262.88" y2="651.65" stroke="#000" stroke-width="1.2" />
<line x1="259.88" y1="659.15" x2="262.88" y2="659.15" stroke="#000" stroke-width="1.2" />
<circle cx="261.38" cy="655.40" r="3.5" fill="#000"/>
<line x1="264.77" y1="655.40" x2="264.77" y2="660.70" stroke="#000" stroke-width="1.3" />
<line x1="263.27" y1="655.40" x2="266.27" y2="655.40" stroke="#000" stroke-width="1.2" />
<line x1="263.27" y1="660.70" x2="266.27" y2="660.70" stroke="#000" stroke-width="1.2" />
<circle cx="264.77" cy="658.05" r="3.5" fill="#000"/>
<line x1="268.16" y1="651.65" x2="268.16" y2="659.15" stroke="#000" stroke-width="1.3" />
<line x1="266.66" y1="651.65" x2="269.66" y2="651.65" stroke="#000" stroke-width="1.2" />
<line x1="266.66" y1="659.15" x2="269.66" y2="659.15" stroke="#000" stroke-width="1.2" />
<circle cx="268.16" cy="655.40" r="3.5" fill="#000"/>
<circle cx="271.56" cy="660.70" r="3.5" fill="#000"/>
<circle cx="274.95" cy="660.70" r="3.5" fill="#000"/>
<circle cx="278.34" cy="660.70" r="3.5" fill="#000"/>
<line x1="281.73" y1="641.52" x2="281.73" y2="653.38" stroke="#000" stroke-width="1.3" />
<line x1="280.23" y1="641.52" x2="283.23" y2="641.52" stroke="#000" stroke-width="1.2" />
<line x1="280.23" y1="653.38" x2="283.23" y2="653.38" stroke="#000" stroke-width="1.2" />
<circle cx="281.73" cy="647.45" r="3.5" fill="#000"/>
<line x1="285.12" y1="651.65" x2="285.12" y2="659.15" stroke="#000" stroke-width="1.3" />
<line x1="283.62" y1="651.65" x2="286.62" y2="651.65" stroke="#000" stroke-width="1.2" />
<line x1="283.62" y1="659.15" x2="286.62" y2="659.15" stroke="#000" stroke-width="1.2" />
<circle cx="285.12" cy="655.40" r="3.5" fill="#000"/>
<line x1="288.52" y1="655.40" x2="288.52" y2="660.70" stroke="#000" stroke-width="1.3" />
<line x1="287.02" y1="655.40" x2="290.02" y2="655.40" stroke="#000" stroke-width="1.2" />
<line x1="287.02" y1="660.70" x2="290.02" y2="660.70" stroke="#000" stroke-width="1.2" />
<circle cx="288.52" cy="658.05" r="3.5" fill="#000"/>
<line x1="291.91" y1="655.40" x2="291.91" y2="660.70" stroke="#000" stroke-width="1.3" />
<line x1="290.41" y1="655.40" x2="293.41" y2="655.40" stroke="#000" stroke-width="1.2" />
<line x1="290.41" y1="660.70" x2="293.41" y2="660.70" stroke="#000" stroke-width="1.2" />
<circle cx="291.91" cy="658.05" r="3.5" fill="#000"/>
<circle cx="295.30" cy="660.70" r="3.5" fill="#000"/>
<line x1="298.69" y1="655.40" x2="298.69" y2="660.70" stroke="#000" stroke-width="1.3" />
<line x1="297.19" y1="655.40" x2="300.19" y2="655.40" stroke="#000" stroke-width="1.2" />
<line x1="297.19" y1="660.70" x2="300.19" y2="660.70" stroke="#000" stroke-width="1.2" />
<circle cx="298.69" cy="658.05" r="3.5" fill="#000"/>
<line x1="302.08" y1="641.52" x2="302.08" y2="653.38" stroke="#000" stroke-width="1.3" />
<line x1="300.58" y1="641.52" x2="303.58" y2="641.52" stroke="#000" stroke-width="1.2" />
<line x1="300.58" y1="653.38" x2="303.58" y2="653.38" stroke="#000" stroke-width="1.2" />
<circle cx="302.08" cy="647.45" r="3.5" fill="#000"/>
<circle cx="305.48" cy="660.70" r="3.5" fill="#000"/>
<circle cx="308.87" cy="660.70" r="3.5" fill="#000"/>
<line x1="312.26" y1="655.40" x2="312.26" y2="660.70" stroke="#000" stroke-width="1.3" />
<line x1="310.76" y1="655.40" x2="313.76" y2="655.40" stroke="#000" stroke-width="1.2" />
<line x1="310.76" y1="660.70" x2="313.76" y2="660.70" stroke="#000" stroke-width="1.2" />
<circle cx="312.26" cy="658.05" r="3.5" fill="#000"/>
<circle cx="315.65" cy="660.70" r="3.5" fill="#000"/>
<line x1="319.04" y1="651.65" x2="319.04" y2="659.15" stroke="#000" stroke-width="1.3" />
<line x1="317.54" y1="651.65" x2="320.54" y2="651.65" stroke="#000" stroke-width="1.2" />
<line x1="317.54" y1="659.15" x2="320.54" y2="659.15" stroke="#000" stroke-width="1.2" />
<circle cx="319.04" cy="655.40" r="3.5" fill="#000"/>
<line x1="322.44" y1="655.40" x2="322.44" y2="660.70" stroke="#000" stroke-width="1.3" />
<line x1="320.94" y1="655.40" x2="323.94" y2="655.40" stroke="#000" stroke-width="1.2" />
<line x1="320.94" y1="660.70" x2="323.94" y2="660.70" stroke="#000" stroke-width="1.2" />
<circle cx="322.44" cy="658.05" r="3.5" fill="#000"/>
<circle cx="325.83" cy="660.70" r="3.5" fill="#000"/>
<circle cx="329.22" cy="660.70" r="3.5" fill="#000"/>
<circle cx="332.61" cy="660.70" r="3.5" fill="#000"/>
<line x1="336.00" y1="655.40" x2="336.00" y2="660.70" stroke="#000" stroke-width="1.3" />
<line x1="334.50" y1="655.40" x2="337.50" y2="655.40" stroke="#000" stroke-width="1.2" />
<line x1="334.50" y1="660.70" x2="337.50" y2="660.70" stroke="#000" stroke-width="1.2" />
<circle cx="336.00" cy="658.05" r="3.5" fill="#000"/>
<circle cx="339.40" cy="660.70" r="3.5" fill="#000"/>
<line x1="342.79" y1="655.40" x2="342.79" y2="660.70" stroke="#000" stroke-width="1.3" />
<line x1="341.29" y1="655.40" x2="344.29" y2="655.40" stroke="#000" stroke-width="1.2" />
<line x1="341.29" y1="660.70" x2="344.29" y2="660.70" stroke="#000" stroke-width="1.2" />
<circle cx="342.79" cy="658.05" r="3.5" fill="#000"/>
<circle cx="346.18" cy="660.70" r="3.5" fill="#000"/>
<circle cx="349.57" cy="660.70" r="3.5" fill="#000"/>
<line x1="352.96" y1="655.40" x2="352.96" y2="660.70" stroke="#000" stroke-width="1.3" />
<line x1="351.46" y1="655.40" x2="354.46" y2="655.40" stroke="#000" stroke-width="1.2" />
<line x1="351.46" y1="660.70" x2="354.46" y2="660.70" stroke="#000" stroke-width="1.2" />
<circle cx="352.96" cy="658.05" r="3.5" fill="#000"/>
<circle cx="356.36" cy="660.70" r="3.5" fill="#000"/>
<circle cx="359.75" cy="660.70" r="3.5" fill="#000"/>
<line x1="363.14" y1="655.40" x2="363.14" y2="660.70" stroke="#000" stroke-width="1.3" />
<line x1="361.64" y1="655.40" x2="364.64" y2="655.40" stroke="#000" stroke-width="1.2" />
<line x1="361.64" y1="660.70" x2="364.64" y2="660.70" stroke="#000" stroke-width="1.2" />
<circle cx="363.14" cy="658.05" r="3.5" fill="#000"/>
<circle cx="366.53" cy="660.70" r="3.5" fill="#000"/>
<line x1="369.92" y1="651.65" x2="369.92" y2="659.15" stroke="#000" stroke-width="1.3" />
<line x1="368.42" y1="651.65" x2="371.42" y2="651.65" stroke="#000" stroke-width="1.2" />
<line x1="368.42" y1="659.15" x2="371.42" y2="659.15" stroke="#000" stroke-width="1.2" />
<circle cx="369.92" cy="655.40" r="3.5" fill="#000"/>
<circle cx="373.32" cy="660.70" r="3.5" fill="#000"/>
<line x1="376.71" y1="655.40" x2="376.71" y2="660.70" stroke="#000" stroke-width="1.3" />
<line x1="375.21" y1="655.40" x2="378.21" y2="655.40" stroke="#000" stroke-width="1.2" />
<line x1="375.21" y1="660.70" x2="378.21" y2="660.70" stroke="#000" stroke-width="1.2" />
<circle cx="376.71" cy="658.05" r="3.5" fill="#000"/>
<circle cx="380.10" cy="660.70" r="3.5" fill="#000"/>
<circle cx="383.49" cy="660.70" r="3.5" fill="#000"/>
<circle cx="386.88" cy="660.70" r="3.5" fill="#000"/>
<circle cx="390.28" cy="660.70" r="3.5" fill="#000"/>
<line x1="393.67" y1="655.40" x2="393.67" y2="660.70" stroke="#000" stroke-width="1.3" />
<line x1="392.17" y1="655.40" x2="395.17" y2="655.40" stroke="#000" stroke-width="1.2" />
<line x1="392.17" y1="660.70" x2="395.17" y2="660.70" stroke="#000" stroke-width="1.2" />
<circle cx="393.67" cy="658.05" r="3.5" fill="#000"/>
<line x1="397.06" y1="655.40" x2="397.06" y2="660.70" stroke="#000" stroke-width="1.3" />
<line x1="395.56" y1="655.40" x2="398.56" y2="655.40" stroke="#000" stroke-width="1.2" />
<line x1="395.56" y1="660.70" x2="398.56" y2="660.70" stroke="#000" stroke-width="1.2" />
<circle cx="397.06" cy="658.05" r="3.5" fill="#000"/>
<circle cx="400.45" cy="660.70" r="3.5" fill="#000"/>
<circle cx="403.84" cy="660.70" r="3.5" fill="#000"/>
<circle cx="407.24" cy="660.70" r="3.5" fill="#000"/>
<circle cx="410.63" cy="660.70" r="3.5" fill="#000"/>
<line x1="414.02" y1="655.40" x2="414.02" y2="660.70" stroke="#000" stroke-width="1.3" />
<line x1="412.52" y1="655.40" x2="415.52" y2="655.40" stroke="#000" stroke-width="1.2" />
<line x1="412.52" y1="660.70" x2="415.52" y2="660.70" stroke="#000" stroke-width="1.2" />
<circle cx="414.02" cy="658.05" r="3.5" fill="#000"/>
<circle cx="417.41" cy="660.70" r="3.5" fill="#000"/>
<circle cx="420.80" cy="660.70" r="3.5" fill="#000"/>
<path d="M83.30 660.70 L86.69 660.70 L86.69 660.70 L90.08 660.70 L90.08 660.70 L93.48 660.70 L93.48 660.70 L96.87 660.70 L96.87 660.70 L100.26 660.70 L100.26 660.70 L103.65 660.70 L103.65 660.70 L107.04 660.70 L107.04 660.70 L110.44 660.70 L110.44 660.70 L113.83 660.70 L113.83 656.46 L117.22 656.46 L117.22 636.85 L120.61 636.85 L120.61 580.67 L124.00 580.67 L124.00 504.35 L127.40 504.35 L127.40 444.73 L130.79 444.73 L130.79 417.96 L134.18 417.96 L134.18 443.67 L137.57 443.67 L137.57 468.31 L140.96 468.31 L140.96 489.51 L144.36 489.51 L144.36 498.52 L147.75 498.52 L147.75 520.78 L151.14 520.78 L151.14 545.16 L154.53 545.16 L154.53 553.91 L157.92 553.91 L157.92 566.10 L161.32 566.10 L161.32 579.08 L164.71 579.08 L164.71 583.32 L168.10 583.32 L168.10 595.25 L171.49 595.25 L171.49 597.63 L174.88 597.63 L174.88 616.45 L178.28 616.45 L178.28 619.10 L181.67 619.10 L181.67 618.04 L185.06 618.04 L185.06 628.63 L188.45 628.63 L188.45 632.08 L191.84 632.08 L191.84 631.02 L195.24 631.02 L195.24 637.65 L198.63 637.65 L198.63 630.49 L202.02 630.49 L202.02 639.24 L205.41 639.24 L205.41 643.21 L208.80 643.21 L208.80 643.21 L212.20 643.21 L212.20 647.72 L215.59 647.72 L215.59 648.78 L218.98 648.78 L218.98 648.78 L222.37 648.78 L222.37 646.92 L225.76 646.92 L225.76 648.51 L229.16 648.51 L229.16 648.51 L232.55 648.51 L232.55 654.87 L235.94 654.87 L235.94 649.84 L239.33 649.84 L239.33 652.22 L242.72 652.22 L242.72 653.81 L246.12 653.81 L246.12 653.81 L249.51 653.81 L249.51 652.75 L252.90 652.75 L252.90 652.75 L256.29 652.75 L256.29 654.61 L259.68 654.61 L259.68 655.93 L263.08 655.93 L263.08 655.93 L266.47 655.93 L266.47 655.67 L269.86 655.67 L269.86 658.05 L273.25 658.05 L273.25 658.05 L276.64 658.05 L276.64 657.25 L280.04 657.25 L280.04 656.73 L283.43 656.73 L283.43 657.25 L286.82 657.25 L286.82 657.25 L290.21 657.25 L290.21 656.73 L293.60 656.73 L293.60 658.85 L297.00 658.85 L297.00 658.85 L300.39 658.85 L300.39 659.38 L303.78 659.38 L303.78 657.79 L307.17 657.79 L307.17 657.79 L310.56 657.79 L310.56 658.85 L313.96 658.85 L313.96 658.85 L317.35 658.85 L317.35 659.38 L320.74 659.38 L320.74 659.38 L324.13 659.38 L324.13 659.38 L327.52 659.38 L327.52 659.38 L330.92 659.38 L330.92 659.38 L334.31 659.38 L334.31 659.38 L337.70 659.38 L337.70 659.38 L341.09 659.38 L341.09 660.44 L344.48 660.44 L344.48 659.38 L347.88 659.38 L347.88 659.38 L351.27 659.38 L351.27 659.38 L354.66 659.38 L354.66 659.38 L358.05 659.38 L358.05 659.38 L361.44 659.38 L361.44 659.38 L364.84 659.38 L364.84 659.38 L368.23 659.38 L368.23 659.38 L371.62 659.38 L371.62 659.38 L375.01 659.38 L375.01 659.11 L378.40 659.11 L378.40 659.11 L381.80 659.11 L381.80 659.64 L385.19 659.64 L385.19 659.64 L388.58 659.64 L388.58 658.32 L391.97 658.32 L391.97 660.30 L395.36 660.30 L395.36 660.30 L398.76 660.30 L398.76 660.30 L402.15 660.30 L402.15 660.30 L405.54 660.30 L405.54 660.30 L408.93 660.30 L408.93 660.30 L412.32 660.30 L412.32 660.30 L415.72 660.30 L415.72 660.30 L419.11 660.30 L419.11 660.30 L422.50 660.30" fill="none" stroke="#f00" stroke-width="1.25" stroke-linejoin="miter"/>
<path d="M113.83 659.91 L117.22 659.91 L117.22 659.38 L120.61 659.38 L120.61 652.75 L124.00 652.75 L124.00 646.66 L127.40 646.66 L127.40 628.37 L130.79 628.37 L130.79 621.48 L134.18 621.48 L134.18 604.52 L137.57 604.52 L137.57 588.36 L140.96 588.36 L140.96 580.94 L144.36 580.94 L144.36 583.06 L147.75 583.06 L147.75 565.04 L151.14 565.04 L151.14 561.06 L154.53 561.06 L154.53 548.61 L157.92 548.61 L157.92 556.29 L161.32 556.29 L161.32 551.79 L164.71 551.79 L164.71 563.18 L168.10 563.18 L168.10 561.86 L171.49 561.86 L171.49 576.17 L174.88 576.17 L174.88 570.87 L178.28 570.87 L178.28 574.31 L181.67 574.31 L181.67 579.88 L185.06 579.88 L185.06 586.77 L188.45 586.77 L188.45 589.95 L191.84 589.95 L191.84 592.86 L195.24 592.86 L195.24 599.49 L198.63 599.49 L198.63 606.91 L202.02 606.91 L202.02 602.67 L205.41 602.67 L205.41 609.03 L208.80 609.03 L208.80 611.68 L212.20 611.68 L212.20 616.98 L215.59 616.98 L215.59 615.12 L218.98 615.12 L218.98 624.13 L222.37 624.13 L222.37 624.13 L225.76 624.13 L225.76 622.54 L229.16 622.54 L229.16 629.70 L232.55 629.70 L232.55 629.17 L235.94 629.17 L235.94 631.02 L239.33 631.02 L239.33 632.61 L242.72 632.61 L242.72 632.08 L246.12 632.08 L246.12 637.12 L249.51 637.12 L249.51 640.83 L252.90 640.83 L252.90 640.83 L256.29 640.83 L256.29 640.83 L259.68 640.83 L259.68 644.27 L263.08 644.27 L263.08 643.21 L266.47 643.21 L266.47 648.25 L269.86 648.25 L269.86 644.27 L273.25 644.27 L273.25 647.19 L276.64 647.19 L276.64 648.78 L280.04 648.78 L280.04 648.78 L283.43 648.78 L283.43 648.78 L286.82 648.78 L286.82 652.22 L290.21 652.22 L290.21 650.37 L293.60 650.37 L293.60 649.84 L297.00 649.84 L297.00 652.22 L300.39 652.22 L300.39 650.90 L303.78 650.90 L303.78 650.90 L307.17 650.90 L307.17 653.81 L310.56 653.81 L310.56 653.28 L313.96 653.28 L313.96 653.28 L317.35 653.28 L317.35 654.34 L320.74 654.34 L320.74 654.87 L324.13 654.87 L324.13 656.73 L327.52 656.73 L327.52 655.40 L330.92 655.40 L330.92 655.93 L334.31 655.93 L334.31 654.87 L337.70 654.87 L337.70 653.28 L341.09 653.28 L341.09 653.28 L344.48 653.28 L344.48 654.87 L347.88 654.87 L347.88 655.40 L351.27 655.40 L351.27 656.73 L354.66 656.73 L354.66 655.40 L358.05 655.40 L358.05 657.25 L361.44 657.25 L361.44 657.25 L364.84 657.25 L364.84 657.79 L368.23 657.79 L368.23 656.73 L371.62 656.73 L371.62 656.46 L375.01 656.46 L375.01 656.46 L378.40 656.46 L378.40 658.32 L381.80 658.32 L381.80 658.32 L385.19 658.32 L385.19 656.73 L388.58 656.73 L388.58 656.73 L391.97 656.73 L391.97 655.93 L395.36 655.93 L395.36 657.79 L398.76 657.79 L398.76 656.46 L402.15 656.46 L402.15 657.25 L405.54 657.25 L405.54 657.25 L408.93 657.25 L408.93 658.32 L412.32 658.32 L412.32 658.32 L415.72 658.32 L415.72 659.11 L419.11 659.11 L419.11 658.32 L422.50 658.32" fill="none" stroke="#00dc00" stroke-width="1.25" stroke-linejoin="miter"/>
<path d="M113.83 660.70 L117.22 660.70 L117.22 660.70 L120.61 660.70 L120.61 660.70 L124.00 660.70 L124.00 660.70 L127.40 660.70 L127.40 660.70 L130.79 660.70 L130.79 660.70 L134.18 660.70 L134.18 660.70 L137.57 660.70 L137.57 660.70 L140.96 660.70 L140.96 660.70 L144.36 660.70 L144.36 660.70 L147.75 660.70 L147.75 660.70 L151.14 660.70 L151.14 660.70 L154.53 660.70 L154.53 660.44 L157.92 660.44 L157.92 659.91 L161.32 659.91 L161.32 659.91 L164.71 659.91 L164.71 659.38 L168.10 659.38 L168.10 658.32 L171.49 658.32 L171.49 657.25 L174.88 657.25 L174.88 655.40 L178.28 655.40 L178.28 653.28 L181.67 653.28 L181.67 652.22 L185.06 652.22 L185.06 649.84 L188.45 649.84 L188.45 647.19 L191.84 647.19 L191.84 644.27 L195.24 644.27 L195.24 643.21 L198.63 643.21 L198.63 639.50 L202.02 639.50 L202.02 632.08 L205.41 632.08 L205.41 628.63 L208.80 628.63 L208.80 627.05 L212.20 627.05 L212.20 623.07 L215.59 623.07 L215.59 621.48 L218.98 621.48 L218.98 620.16 L222.37 620.16 L222.37 620.16 L225.76 620.16 L225.76 615.92 L229.16 615.92 L229.16 615.12 L232.55 615.12 L232.55 614.59 L235.94 614.59 L235.94 611.94 L239.33 611.94 L239.33 615.12 L242.72 615.12 L242.72 611.15 L246.12 611.15 L246.12 610.35 L249.51 610.35 L249.51 611.41 L252.90 611.41 L252.90 609.56 L256.29 609.56 L256.29 608.50 L259.68 608.50 L259.68 610.88 L263.08 610.88 L263.08 611.94 L266.47 611.94 L266.47 613.53 L269.86 613.53 L269.86 615.92 L273.25 615.92 L273.25 613.00 L276.64 613.00 L276.64 613.00 L280.04 613.00 L280.04 616.98 L283.43 616.98 L283.43 616.45 L286.82 616.45 L286.82 618.04 L290.21 618.04 L290.21 620.95 L293.60 620.95 L293.60 617.50 L297.00 617.50 L297.00 619.10 L300.39 619.10 L300.39 622.54 L303.78 622.54 L303.78 624.66 L307.17 624.66 L307.17 623.60 L310.56 623.60 L310.56 625.19 L313.96 625.19 L313.96 626.52 L317.35 626.52 L317.35 630.23 L320.74 630.23 L320.74 628.11 L324.13 628.11 L324.13 628.63 L327.52 628.63 L327.52 632.61 L330.92 632.61 L330.92 629.17 L334.31 629.17 L334.31 632.61 L337.70 632.61 L337.70 634.73 L341.09 634.73 L341.09 633.67 L344.48 633.67 L344.48 631.55 L347.88 631.55 L347.88 633.14 L351.27 633.14 L351.27 637.12 L354.66 637.12 L354.66 635.26 L358.05 635.26 L358.05 638.71 L361.44 638.71 L361.44 639.24 L364.84 639.24 L364.84 640.30 L368.23 640.30 L368.23 637.65 L371.62 637.65 L371.62 640.30 L375.01 640.30 L375.01 641.62 L378.40 641.62 L378.40 640.30 L381.80 640.30 L381.80 643.21 L385.19 643.21 L385.19 643.21 L388.58 643.21 L388.58 640.83 L391.97 640.83 L391.97 643.48 L395.36 643.48 L395.36 643.48 L398.76 643.48 L398.76 646.66 L402.15 646.66 L402.15 646.66 L405.54 646.66 L405.54 645.86 L408.93 645.86 L408.93 645.86 L412.32 645.86 L412.32 648.25 L415.72 648.25 L415.72 648.25 L419.11 648.25 L419.11 646.92 L422.50 646.92" fill="none" stroke="#00f" stroke-width="1.25" stroke-linejoin="miter"/>
<circle cx="273.2" cy="400.5" r="4.2" fill="#000"/>
<line x1="263.30" y1="415.60" x2="277.40" y2="415.60" stroke="#f00" stroke-width="1.3" />
<line x1="263.30" y1="430.70" x2="277.40" y2="430.70" stroke="#00dc00" stroke-width="1.3" />
<line x1="263.30" y1="445.90" x2="277.40" y2="445.90" stroke="#00f" stroke-width="1.3" />
<text x="282.60" y="405.50" font-size="16" text-anchor="start" font-weight="normal" fill="#141414" >Data</text>
<text x="282.70" y="420.70" font-size="16" text-anchor="start" font-weight="normal" fill="#141414"  textLength="143.5" lengthAdjust="spacingAndGlyphs">Standard simulation</text>
<text x="282.10" y="435.90" font-size="16" text-anchor="start" font-weight="normal" fill="#141414"  textLength="135.5" lengthAdjust="spacingAndGlyphs">100-mK simulation</text>
<text x="282.10" y="451.20" font-size="16" text-anchor="start" font-weight="normal" fill="#141414"  textLength="126.5" lengthAdjust="spacingAndGlyphs">10-mK simulation</text>
</g>
<g id="pc">
<line x1="544.20" y1="398.50" x2="544.20" y2="665.90" stroke="#000" stroke-width="1.4" />
<line x1="543.60" y1="665.30" x2="897.80" y2="665.30" stroke="#000" stroke-width="1.4" />
<line x1="536.20" y1="660.70" x2="544.20" y2="660.70" stroke="#000" stroke-width="1.4" />
<text x="534.20" y="666.80" font-size="16" text-anchor="end" font-weight="normal" fill="#141414" >0</text>
<line x1="540.00" y1="652.53" x2="544.20" y2="652.53" stroke="#000" stroke-width="1.4" />
<line x1="540.00" y1="644.35" x2="544.20" y2="644.35" stroke="#000" stroke-width="1.4" />
<line x1="540.00" y1="636.18" x2="544.20" y2="636.18" stroke="#000" stroke-width="1.4" />
<line x1="536.20" y1="628.00" x2="544.20" y2="628.00" stroke="#000" stroke-width="1.4" />
<text x="534.20" y="634.10" font-size="16" text-anchor="end" font-weight="normal" fill="#141414" >20</text>
<line x1="540.00" y1="619.83" x2="544.20" y2="619.83" stroke="#000" stroke-width="1.4" />
<line x1="540.00" y1="611.65" x2="544.20" y2="611.65" stroke="#000" stroke-width="1.4" />
<line x1="540.00" y1="603.48" x2="544.20" y2="603.48" stroke="#000" stroke-width="1.4" />
<line x1="536.20" y1="595.30" x2="544.20" y2="595.30" stroke="#000" stroke-width="1.4" />
<text x="534.20" y="601.40" font-size="16" text-anchor="end" font-weight="normal" fill="#141414" >40</text>
<line x1="540.00" y1="587.12" x2="544.20" y2="587.12" stroke="#000" stroke-width="1.4" />
<line x1="540.00" y1="578.95" x2="544.20" y2="578.95" stroke="#000" stroke-width="1.4" />
<line x1="540.00" y1="570.78" x2="544.20" y2="570.78" stroke="#000" stroke-width="1.4" />
<line x1="536.20" y1="562.60" x2="544.20" y2="562.60" stroke="#000" stroke-width="1.4" />
<text x="534.20" y="568.70" font-size="16" text-anchor="end" font-weight="normal" fill="#141414" >60</text>
<line x1="540.00" y1="554.43" x2="544.20" y2="554.43" stroke="#000" stroke-width="1.4" />
<line x1="540.00" y1="546.25" x2="544.20" y2="546.25" stroke="#000" stroke-width="1.4" />
<line x1="540.00" y1="538.08" x2="544.20" y2="538.08" stroke="#000" stroke-width="1.4" />
<line x1="536.20" y1="529.90" x2="544.20" y2="529.90" stroke="#000" stroke-width="1.4" />
<text x="534.20" y="536.00" font-size="16" text-anchor="end" font-weight="normal" fill="#141414" >80</text>
<line x1="540.00" y1="521.73" x2="544.20" y2="521.73" stroke="#000" stroke-width="1.4" />
<line x1="540.00" y1="513.55" x2="544.20" y2="513.55" stroke="#000" stroke-width="1.4" />
<line x1="540.00" y1="505.38" x2="544.20" y2="505.38" stroke="#000" stroke-width="1.4" />
<line x1="536.20" y1="497.20" x2="544.20" y2="497.20" stroke="#000" stroke-width="1.4" />
<text x="534.20" y="503.30" font-size="16" text-anchor="end" font-weight="normal" fill="#141414" >100</text>
<line x1="540.00" y1="489.03" x2="544.20" y2="489.03" stroke="#000" stroke-width="1.4" />
<line x1="540.00" y1="480.85" x2="544.20" y2="480.85" stroke="#000" stroke-width="1.4" />
<line x1="540.00" y1="472.68" x2="544.20" y2="472.68" stroke="#000" stroke-width="1.4" />
<line x1="536.20" y1="464.50" x2="544.20" y2="464.50" stroke="#000" stroke-width="1.4" />
<text x="534.20" y="470.60" font-size="16" text-anchor="end" font-weight="normal" fill="#141414" >120</text>
<line x1="540.00" y1="456.33" x2="544.20" y2="456.33" stroke="#000" stroke-width="1.4" />
<line x1="540.00" y1="448.15" x2="544.20" y2="448.15" stroke="#000" stroke-width="1.4" />
<line x1="540.00" y1="439.98" x2="544.20" y2="439.98" stroke="#000" stroke-width="1.4" />
<line x1="536.20" y1="431.80" x2="544.20" y2="431.80" stroke="#000" stroke-width="1.4" />
<text x="534.20" y="437.90" font-size="16" text-anchor="end" font-weight="normal" fill="#141414" >140</text>
<line x1="540.00" y1="423.63" x2="544.20" y2="423.63" stroke="#000" stroke-width="1.4" />
<line x1="540.00" y1="415.45" x2="544.20" y2="415.45" stroke="#000" stroke-width="1.4" />
<line x1="540.00" y1="407.28" x2="544.20" y2="407.28" stroke="#000" stroke-width="1.4" />
<line x1="536.20" y1="399.10" x2="544.20" y2="399.10" stroke="#000" stroke-width="1.4" />
<text x="534.20" y="405.20" font-size="16" text-anchor="end" font-weight="normal" fill="#141414" >160</text>
<line x1="554.85" y1="665.30" x2="554.85" y2="673.90" stroke="#000" stroke-width="1.4" />
<text x="550.35" y="687.50" font-size="16" text-anchor="middle" font-weight="normal" fill="#141414" >−150</text>
<line x1="565.90" y1="665.30" x2="565.90" y2="669.90" stroke="#000" stroke-width="1.4" />
<line x1="576.95" y1="665.30" x2="576.95" y2="669.90" stroke="#000" stroke-width="1.4" />
<line x1="588.00" y1="665.30" x2="588.00" y2="669.90" stroke="#000" stroke-width="1.4" />
<line x1="599.05" y1="665.30" x2="599.05" y2="669.90" stroke="#000" stroke-width="1.4" />
<line x1="610.10" y1="665.30" x2="610.10" y2="673.90" stroke="#000" stroke-width="1.4" />
<text x="605.60" y="687.50" font-size="16" text-anchor="middle" font-weight="normal" fill="#141414" >−100</text>
<line x1="621.15" y1="665.30" x2="621.15" y2="669.90" stroke="#000" stroke-width="1.4" />
<line x1="632.20" y1="665.30" x2="632.20" y2="669.90" stroke="#000" stroke-width="1.4" />
<line x1="643.25" y1="665.30" x2="643.25" y2="669.90" stroke="#000" stroke-width="1.4" />
<line x1="654.30" y1="665.30" x2="654.30" y2="669.90" stroke="#000" stroke-width="1.4" />
<line x1="665.35" y1="665.30" x2="665.35" y2="673.90" stroke="#000" stroke-width="1.4" />
<text x="660.85" y="687.50" font-size="16" text-anchor="middle" font-weight="normal" fill="#141414" >−50</text>
<line x1="676.40" y1="665.30" x2="676.40" y2="669.90" stroke="#000" stroke-width="1.4" />
<line x1="687.45" y1="665.30" x2="687.45" y2="669.90" stroke="#000" stroke-width="1.4" />
<line x1="698.50" y1="665.30" x2="698.50" y2="669.90" stroke="#000" stroke-width="1.4" />
<line x1="709.55" y1="665.30" x2="709.55" y2="669.90" stroke="#000" stroke-width="1.4" />
<line x1="720.60" y1="665.30" x2="720.60" y2="673.90" stroke="#000" stroke-width="1.4" />
<text x="720.60" y="687.50" font-size="16" text-anchor="middle" font-weight="normal" fill="#141414" >0</text>
<line x1="731.65" y1="665.30" x2="731.65" y2="669.90" stroke="#000" stroke-width="1.4" />
<line x1="742.70" y1="665.30" x2="742.70" y2="669.90" stroke="#000" stroke-width="1.4" />
<line x1="753.75" y1="665.30" x2="753.75" y2="669.90" stroke="#000" stroke-width="1.4" />
<line x1="764.80" y1="665.30" x2="764.80" y2="669.90" stroke="#000" stroke-width="1.4" />
<line x1="775.85" y1="665.30" x2="775.85" y2="673.90" stroke="#000" stroke-width="1.4" />
<text x="775.85" y="687.50" font-size="16" text-anchor="middle" font-weight="normal" fill="#141414" >50</text>
<line x1="786.90" y1="665.30" x2="786.90" y2="669.90" stroke="#000" stroke-width="1.4" />
<line x1="797.95" y1="665.30" x2="797.95" y2="669.90" stroke="#000" stroke-width="1.4" />
<line x1="809.00" y1="665.30" x2="809.00" y2="669.90" stroke="#000" stroke-width="1.4" />
<line x1="820.05" y1="665.30" x2="820.05" y2="669.90" stroke="#000" stroke-width="1.4" />
<line x1="831.10" y1="665.30" x2="831.10" y2="673.90" stroke="#000" stroke-width="1.4" />
<text x="831.10" y="687.50" font-size="16" text-anchor="middle" font-weight="normal" fill="#141414" >100</text>
<line x1="842.15" y1="665.30" x2="842.15" y2="669.90" stroke="#000" stroke-width="1.4" />
<line x1="853.20" y1="665.30" x2="853.20" y2="669.90" stroke="#000" stroke-width="1.4" />
<line x1="864.25" y1="665.30" x2="864.25" y2="669.90" stroke="#000" stroke-width="1.4" />
<line x1="875.30" y1="665.30" x2="875.30" y2="669.90" stroke="#000" stroke-width="1.4" />
<line x1="886.35" y1="665.30" x2="886.35" y2="673.90" stroke="#000" stroke-width="1.4" />
<text x="888.95" y="687.50" font-size="16" text-anchor="middle" font-weight="normal" fill="#141414" >150</text>
<text x="720.5" y="708.8" font-size="17.5" text-anchor="middle" fill="#141414" textLength="178" lengthAdjust="spacingAndGlyphs">Axial position, <tspan font-style="italic">z</tspan> (mm)</text>
<text transform="translate(482.5,532.2) rotate(-90)" font-size="17.5" text-anchor="middle" fill="#141414" textLength="99.5" lengthAdjust="spacingAndGlyphs">Data counts</text>
<text transform="translate(473.0,391.7) scale(1.12,1)" font-size="20" font-weight="bold" fill="#000" style="stroke:#000;stroke-width:0.85px">c</text>
<line x1="582.48" y1="655.12" x2="582.48" y2="659.74" stroke="#000" stroke-width="1.3" />
<line x1="579.27" y1="655.12" x2="585.68" y2="655.12" stroke="#000" stroke-width="1.3" />
<line x1="579.27" y1="659.74" x2="585.68" y2="659.74" stroke="#000" stroke-width="1.3" />
<circle cx="582.48" cy="657.43" r="3.5" fill="#000"/>
<line x1="593.52" y1="646.89" x2="593.52" y2="654.89" stroke="#000" stroke-width="1.3" />
<line x1="590.32" y1="646.89" x2="596.73" y2="646.89" stroke="#000" stroke-width="1.3" />
<line x1="590.32" y1="654.89" x2="596.73" y2="654.89" stroke="#000" stroke-width="1.3" />
<circle cx="593.52" cy="650.89" r="3.5" fill="#000"/>
<line x1="604.58" y1="639.18" x2="604.58" y2="649.52" stroke="#000" stroke-width="1.3" />
<line x1="601.38" y1="639.18" x2="607.78" y2="639.18" stroke="#000" stroke-width="1.3" />
<line x1="601.38" y1="649.52" x2="607.78" y2="649.52" stroke="#000" stroke-width="1.3" />
<circle cx="604.58" cy="644.35" r="3.5" fill="#000"/>
<line x1="615.62" y1="639.18" x2="615.62" y2="649.52" stroke="#000" stroke-width="1.3" />
<line x1="612.42" y1="639.18" x2="618.83" y2="639.18" stroke="#000" stroke-width="1.3" />
<line x1="612.42" y1="649.52" x2="618.83" y2="649.52" stroke="#000" stroke-width="1.3" />
<circle cx="615.62" cy="644.35" r="3.5" fill="#000"/>
<line x1="626.68" y1="617.06" x2="626.68" y2="632.40" stroke="#000" stroke-width="1.3" />
<line x1="623.48" y1="617.06" x2="629.88" y2="617.06" stroke="#000" stroke-width="1.3" />
<line x1="623.48" y1="632.40" x2="629.88" y2="632.40" stroke="#000" stroke-width="1.3" />
<circle cx="626.68" cy="624.73" r="3.5" fill="#000"/>
<line x1="637.73" y1="620.69" x2="637.73" y2="635.31" stroke="#000" stroke-width="1.3" />
<line x1="634.52" y1="620.69" x2="640.93" y2="620.69" stroke="#000" stroke-width="1.3" />
<line x1="634.52" y1="635.31" x2="640.93" y2="635.31" stroke="#000" stroke-width="1.3" />
<circle cx="637.73" cy="628.00" r="3.5" fill="#000"/>
<line x1="648.77" y1="576.16" x2="648.77" y2="598.09" stroke="#000" stroke-width="1.3" />
<line x1="645.57" y1="576.16" x2="651.98" y2="576.16" stroke="#000" stroke-width="1.3" />
<line x1="645.57" y1="598.09" x2="651.98" y2="598.09" stroke="#000" stroke-width="1.3" />
<circle cx="648.77" cy="587.12" r="3.5" fill="#000"/>
<line x1="659.83" y1="570.89" x2="659.83" y2="593.55" stroke="#000" stroke-width="1.3" />
<line x1="656.62" y1="570.89" x2="663.03" y2="570.89" stroke="#000" stroke-width="1.3" />
<line x1="656.62" y1="593.55" x2="663.03" y2="593.55" stroke="#000" stroke-width="1.3" />
<circle cx="659.83" cy="582.22" r="3.5" fill="#000"/>
<line x1="670.88" y1="549.94" x2="670.88" y2="575.26" stroke="#000" stroke-width="1.3" />
<line x1="667.67" y1="549.94" x2="674.08" y2="549.94" stroke="#000" stroke-width="1.3" />
<line x1="667.67" y1="575.26" x2="674.08" y2="575.26" stroke="#000" stroke-width="1.3" />
<circle cx="670.88" cy="562.60" r="3.5" fill="#000"/>
<line x1="681.93" y1="562.14" x2="681.93" y2="585.95" stroke="#000" stroke-width="1.3" />
<line x1="678.73" y1="562.14" x2="685.13" y2="562.14" stroke="#000" stroke-width="1.3" />
<line x1="678.73" y1="585.95" x2="685.13" y2="585.95" stroke="#000" stroke-width="1.3" />
<circle cx="681.93" cy="574.05" r="3.5" fill="#000"/>
<line x1="692.98" y1="525.65" x2="692.98" y2="553.77" stroke="#000" stroke-width="1.3" />
<line x1="689.77" y1="525.65" x2="696.18" y2="525.65" stroke="#000" stroke-width="1.3" />
<line x1="689.77" y1="553.77" x2="696.18" y2="553.77" stroke="#000" stroke-width="1.3" />
<circle cx="692.98" cy="539.71" r="3.5" fill="#000"/>
<line x1="704.02" y1="539.51" x2="704.02" y2="566.07" stroke="#000" stroke-width="1.3" />
<line x1="700.82" y1="539.51" x2="707.23" y2="539.51" stroke="#000" stroke-width="1.3" />
<line x1="700.82" y1="566.07" x2="707.23" y2="566.07" stroke="#000" stroke-width="1.3" />
<circle cx="704.02" cy="552.79" r="3.5" fill="#000"/>
<line x1="715.08" y1="529.11" x2="715.08" y2="556.85" stroke="#000" stroke-width="1.3" />
<line x1="711.88" y1="529.11" x2="718.28" y2="529.11" stroke="#000" stroke-width="1.3" />
<line x1="711.88" y1="556.85" x2="718.28" y2="556.85" stroke="#000" stroke-width="1.3" />
<circle cx="715.08" cy="542.98" r="3.5" fill="#000"/>
<line x1="726.12" y1="504.93" x2="726.12" y2="535.25" stroke="#000" stroke-width="1.3" />
<line x1="722.92" y1="504.93" x2="729.33" y2="504.93" stroke="#000" stroke-width="1.3" />
<line x1="722.92" y1="535.25" x2="729.33" y2="535.25" stroke="#000" stroke-width="1.3" />
<circle cx="726.12" cy="520.09" r="3.5" fill="#000"/>
<line x1="737.18" y1="536.04" x2="737.18" y2="563.00" stroke="#000" stroke-width="1.3" />
<line x1="733.98" y1="536.04" x2="740.38" y2="536.04" stroke="#000" stroke-width="1.3" />
<line x1="733.98" y1="563.00" x2="740.38" y2="563.00" stroke="#000" stroke-width="1.3" />
<circle cx="737.18" cy="549.52" r="3.5" fill="#000"/>
<line x1="748.23" y1="522.19" x2="748.23" y2="550.69" stroke="#000" stroke-width="1.3" />
<line x1="745.02" y1="522.19" x2="751.43" y2="522.19" stroke="#000" stroke-width="1.3" />
<line x1="745.02" y1="550.69" x2="751.43" y2="550.69" stroke="#000" stroke-width="1.3" />
<circle cx="748.23" cy="536.44" r="3.5" fill="#000"/>
<line x1="759.27" y1="546.46" x2="759.27" y2="572.20" stroke="#000" stroke-width="1.3" />
<line x1="756.07" y1="546.46" x2="762.48" y2="546.46" stroke="#000" stroke-width="1.3" />
<line x1="756.07" y1="572.20" x2="762.48" y2="572.20" stroke="#000" stroke-width="1.3" />
<circle cx="759.27" cy="559.33" r="3.5" fill="#000"/>
<line x1="770.33" y1="548.20" x2="770.33" y2="573.73" stroke="#000" stroke-width="1.3" />
<line x1="767.12" y1="548.20" x2="773.53" y2="548.20" stroke="#000" stroke-width="1.3" />
<line x1="767.12" y1="573.73" x2="773.53" y2="573.73" stroke="#000" stroke-width="1.3" />
<circle cx="770.33" cy="560.97" r="3.5" fill="#000"/>
<line x1="781.38" y1="549.94" x2="781.38" y2="575.26" stroke="#000" stroke-width="1.3" />
<line x1="778.17" y1="549.94" x2="784.58" y2="549.94" stroke="#000" stroke-width="1.3" />
<line x1="778.17" y1="575.26" x2="784.58" y2="575.26" stroke="#000" stroke-width="1.3" />
<circle cx="781.38" cy="562.60" r="3.5" fill="#000"/>
<line x1="792.43" y1="581.43" x2="792.43" y2="602.63" stroke="#000" stroke-width="1.3" />
<line x1="789.23" y1="581.43" x2="795.63" y2="581.43" stroke="#000" stroke-width="1.3" />
<line x1="789.23" y1="602.63" x2="795.63" y2="602.63" stroke="#000" stroke-width="1.3" />
<circle cx="792.43" cy="592.03" r="3.5" fill="#000"/>
<line x1="803.48" y1="599.13" x2="803.48" y2="617.63" stroke="#000" stroke-width="1.3" />
<line x1="800.27" y1="599.13" x2="806.68" y2="599.13" stroke="#000" stroke-width="1.3" />
<line x1="800.27" y1="617.63" x2="806.68" y2="617.63" stroke="#000" stroke-width="1.3" />
<circle cx="803.48" cy="608.38" r="3.5" fill="#000"/>
<line x1="814.52" y1="618.87" x2="814.52" y2="633.86" stroke="#000" stroke-width="1.3" />
<line x1="811.32" y1="618.87" x2="817.73" y2="618.87" stroke="#000" stroke-width="1.3" />
<line x1="811.32" y1="633.86" x2="817.73" y2="633.86" stroke="#000" stroke-width="1.3" />
<circle cx="814.52" cy="626.37" r="3.5" fill="#000"/>
<line x1="825.58" y1="643.00" x2="825.58" y2="652.24" stroke="#000" stroke-width="1.3" />
<line x1="822.38" y1="643.00" x2="828.78" y2="643.00" stroke="#000" stroke-width="1.3" />
<line x1="822.38" y1="652.24" x2="828.78" y2="652.24" stroke="#000" stroke-width="1.3" />
<circle cx="825.58" cy="647.62" r="3.5" fill="#000"/>
<line x1="836.62" y1="646.89" x2="836.62" y2="654.89" stroke="#000" stroke-width="1.3" />
<line x1="833.42" y1="646.89" x2="839.83" y2="646.89" stroke="#000" stroke-width="1.3" />
<line x1="833.42" y1="654.89" x2="839.83" y2="654.89" stroke="#000" stroke-width="1.3" />
<circle cx="836.62" cy="650.89" r="3.5" fill="#000"/>
<line x1="847.68" y1="646.89" x2="847.68" y2="654.89" stroke="#000" stroke-width="1.3" />
<line x1="844.48" y1="646.89" x2="850.88" y2="646.89" stroke="#000" stroke-width="1.3" />
<line x1="844.48" y1="654.89" x2="850.88" y2="654.89" stroke="#000" stroke-width="1.3" />
<circle cx="847.68" cy="650.89" r="3.5" fill="#000"/>
<circle cx="858.73" cy="659.07" r="3.5" fill="#000"/>
<path d="M576.95 660.54 L588.00 660.54 L588.00 660.54 L599.05 660.54 L599.05 660.21 L610.10 660.21 L610.10 659.23 L621.15 659.23 L621.15 655.47 L632.20 655.47 L632.20 648.60 L643.25 648.60 L643.25 635.68 L654.30 635.68 L654.30 606.58 L665.35 606.58 L665.35 565.05 L676.40 565.05 L676.40 544.78 L687.45 544.78 L687.45 514.69 L698.50 514.69 L698.50 487.72 L709.55 487.72 L709.55 449.62 L720.60 449.62 L720.60 452.24 L731.65 452.24 L731.65 488.53 L742.70 488.53 L742.70 515.02 L753.75 515.02 L753.75 544.12 L764.80 544.12 L764.80 567.83 L775.85 567.83 L775.85 612.47 L786.90 612.47 L786.90 638.63 L797.95 638.63 L797.95 650.07 L809.00 650.07 L809.00 654.98 L820.05 654.98 L820.05 659.23 L831.10 659.23 L831.10 660.21 L842.15 660.21 L842.15 660.54 L853.20 660.54" fill="none" stroke="#00f" stroke-width="1.25" stroke-linejoin="miter"/>
<path d="M576.95 658.90 L588.00 658.90 L588.00 659.23 L599.05 659.23 L599.05 654.32 L610.10 654.32 L610.10 650.40 L621.15 650.40 L621.15 640.59 L632.20 640.59 L632.20 623.42 L643.25 623.42 L643.25 606.91 L654.30 606.91 L654.30 579.60 L665.35 579.60 L665.35 558.19 L676.40 558.19 L676.40 551.16 L687.45 551.16 L687.45 536.44 L698.50 536.44 L698.50 522.87 L709.55 522.87 L709.55 514.04 L720.60 514.04 L720.60 509.14 L731.65 509.14 L731.65 528.27 L742.70 528.27 L742.70 533.82 L753.75 533.82 L753.75 550.17 L764.80 550.17 L764.80 567.01 L775.85 567.01 L775.85 585.16 L786.90 585.16 L786.90 605.27 L797.95 605.27 L797.95 620.97 L809.00 620.97 L809.00 639.28 L820.05 639.28 L820.05 647.78 L831.10 647.78 L831.10 654.32 L842.15 654.32 L842.15 657.43 L853.20 657.43 L853.20 658.74" fill="none" stroke="#00c864" stroke-width="1.25" stroke-linejoin="miter"/>
<path d="M576.95 657.59 L588.00 657.59 L588.00 659.07 L599.05 659.07 L599.05 655.47 L610.10 655.47 L610.10 646.48 L621.15 646.48 L621.15 639.77 L632.20 639.77 L632.20 622.77 L643.25 622.77 L643.25 604.62 L654.30 604.62 L654.30 577.81 L665.35 577.81 L665.35 553.44 L676.40 553.44 L676.40 548.54 L687.45 548.54 L687.45 538.24 L698.50 538.24 L698.50 526.47 L709.55 526.47 L709.55 518.29 L720.60 518.29 L720.60 515.51 L731.65 515.51 L731.65 535.13 L742.70 535.13 L742.70 540.04 L753.75 540.04 L753.75 556.39 L764.80 556.39 L764.80 567.34 L775.85 567.34 L775.85 582.22 L786.90 582.22 L786.90 603.31 L797.95 603.31 L797.95 622.28 L809.00 622.28 L809.00 633.72 L820.05 633.72 L820.05 644.02 L831.10 644.02 L831.10 651.38 L842.15 651.38 L842.15 654.98 L853.20 654.98 L853.20 657.76" fill="none" stroke="#f00" stroke-width="1.25" stroke-linejoin="miter"/>
<circle cx="748.9" cy="391.6" r="4.2" fill="#000"/>
<line x1="738.50" y1="406.70" x2="752.30" y2="406.70" stroke="#f00" stroke-width="1.3" />
<line x1="738.50" y1="421.60" x2="752.30" y2="421.60" stroke="#00c864" stroke-width="1.3" />
<line x1="738.50" y1="436.60" x2="752.30" y2="436.60" stroke="#00f" stroke-width="1.3" />
<text x="757.20" y="395.70" font-size="16" text-anchor="start" font-weight="normal" fill="#141414" >Data</text>
<text x="757.30" y="410.70" font-size="16" text-anchor="start" font-weight="normal" fill="#141414"  textLength="142.6" lengthAdjust="spacingAndGlyphs">Standard simulation</text>
<text x="756.70" y="426.30" font-size="16" text-anchor="start" font-weight="normal" fill="#141414"  textLength="135.5" lengthAdjust="spacingAndGlyphs">100-mK simulation</text>
<text x="756.70" y="441.40" font-size="16" text-anchor="start" font-weight="normal" fill="#141414"  textLength="126.5" lengthAdjust="spacingAndGlyphs">10-mK simulation</text>
</g>
</svg></body></html>
